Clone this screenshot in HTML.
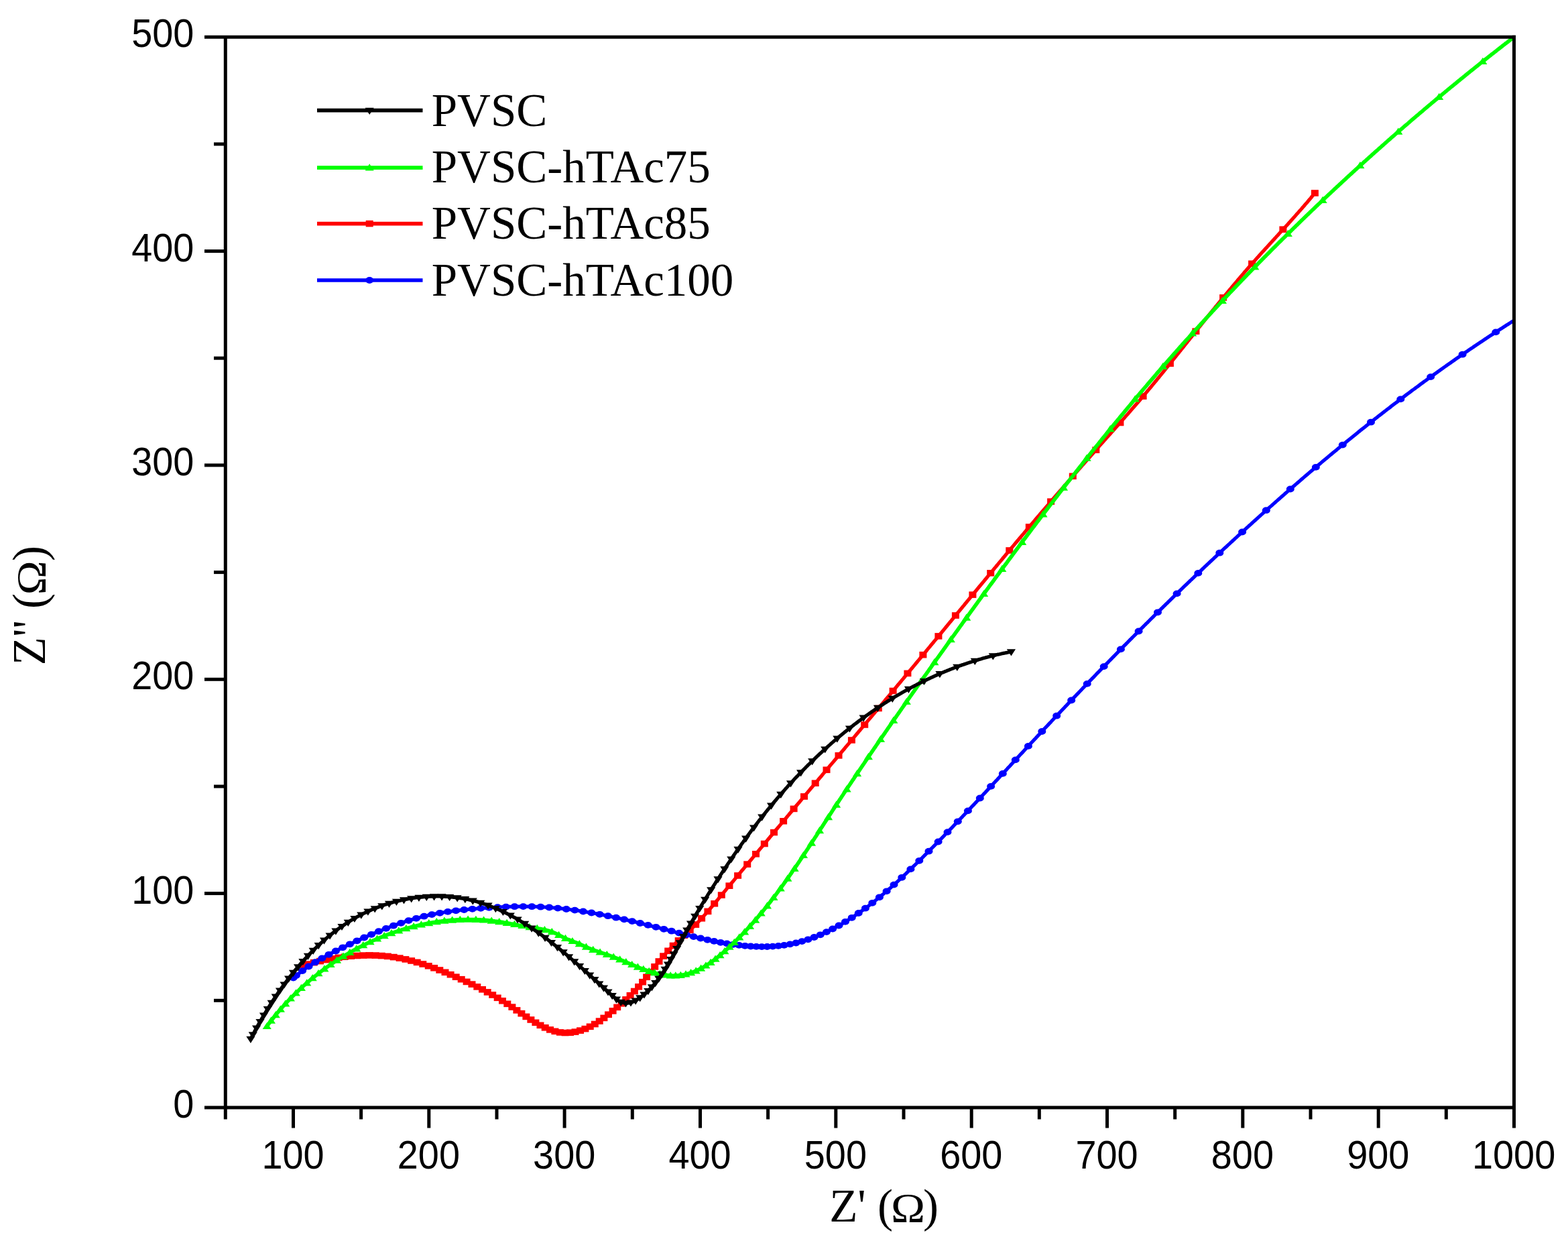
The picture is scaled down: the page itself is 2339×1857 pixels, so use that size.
<!DOCTYPE html>
<html lang="en">
<head>
<meta charset="utf-8">
<title>Nyquist plot</title>
<style>
html,body{margin:0;padding:0;background:#fff;}
body{width:2339px;height:1857px;overflow:hidden;}
svg{display:block;}
</style>
</head>
<body>
<svg width="2339" height="1857" viewBox="0 0 2339 1857">
<defs><clipPath id="plot"><rect x="336.3" y="55.2" width="1922.2" height="1596.8"/></clipPath></defs>
<rect width="2339" height="1857" fill="#fff"/>
<g clip-path="url(#plot)" fill="none" stroke-linejoin="round">
<path d="M453.4,1439.6 455.4,1439.1 457.3,1438.6 459.3,1438.0 461.3,1437.5 463.2,1437.0 465.2,1436.5 467.2,1436.0 469.1,1435.5 471.1,1435.1 473.1,1434.6 475.0,1434.1 477.0,1433.7 479.0,1433.2 481.0,1432.8 482.9,1432.4 484.9,1432.0 486.9,1431.6 488.9,1431.2 490.8,1430.8 492.8,1430.5 494.8,1430.1 496.8,1429.8 498.7,1429.4 500.7,1429.1 502.7,1428.8 504.7,1428.5 506.7,1428.2 508.6,1427.9 510.6,1427.6 512.6,1427.4 514.6,1427.1 516.5,1426.9 518.5,1426.7 520.5,1426.5 522.5,1426.3 524.4,1426.1 526.4,1425.9 528.4,1425.8 530.4,1425.6 532.3,1425.5 534.3,1425.4 536.3,1425.3 538.3,1425.2 540.2,1425.1 542.2,1425.0 544.2,1425.0 546.2,1425.0 548.1,1424.9 550.1,1424.9 552.1,1424.9 554.0,1425.0 556.0,1425.0 558.0,1425.0 559.9,1425.1 561.9,1425.2 563.9,1425.3 565.8,1425.4 567.8,1425.5 569.8,1425.6 571.7,1425.8 573.7,1426.0 575.6,1426.2 577.6,1426.4 579.6,1426.6 581.5,1426.8 583.5,1427.1 585.4,1427.3 587.4,1427.6 589.3,1427.9 591.3,1428.2 593.2,1428.6 595.2,1428.9 597.1,1429.3 599.1,1429.7 601.0,1430.1 602.9,1430.5 604.9,1430.9 606.8,1431.3 608.7,1431.8 610.7,1432.3 612.6,1432.8 614.5,1433.3 616.5,1433.8 618.4,1434.3 620.3,1434.8 622.2,1435.4 624.2,1436.0 626.1,1436.5 628.0,1437.1 629.9,1437.7 631.8,1438.4 633.7,1439.0 635.6,1439.6 637.6,1440.3 639.5,1440.9 641.4,1441.6 643.3,1442.3 645.2,1442.9 647.1,1443.6 649.0,1444.3 650.8,1445.1 652.7,1445.8 654.6,1446.5 656.5,1447.2 658.4,1448.0 660.3,1448.7 662.1,1449.5 664.0,1450.3 665.9,1451.0 667.7,1451.8 669.6,1452.6 671.5,1453.4 673.3,1454.2 675.2,1455.0 677.0,1455.8 678.9,1456.6 680.7,1457.4 682.6,1458.2 684.4,1459.0 686.3,1459.9 688.1,1460.7 689.9,1461.5 691.8,1462.4 693.6,1463.2 695.4,1464.0 697.2,1464.9 699.1,1465.7 700.9,1466.6 702.7,1467.5 704.5,1468.3 706.3,1469.2 708.1,1470.1 709.9,1471.0 711.7,1471.8 713.5,1472.7 715.3,1473.6 717.1,1474.5 718.8,1475.5 720.6,1476.4 722.4,1477.3 724.2,1478.2 725.9,1479.2 727.7,1480.1 729.4,1481.1 731.2,1482.0 732.9,1483.0 734.7,1484.0 736.4,1485.0 738.2,1486.0 739.9,1487.0 741.6,1488.0 743.4,1489.0 745.1,1490.0 746.8,1491.1 748.5,1492.1 750.2,1493.2 751.9,1494.3 753.6,1495.3 755.3,1496.4 757.0,1497.5 758.7,1498.6 760.4,1499.7 762.1,1500.9 763.8,1502.0 765.4,1503.1 767.1,1504.3 768.8,1505.4 770.4,1506.6 772.1,1507.7 773.8,1508.9 775.4,1510.0 777.1,1511.1 778.8,1512.3 780.4,1513.4 782.1,1514.6 783.8,1515.7 785.5,1516.8 787.1,1517.9 788.8,1519.0 790.5,1520.1 792.2,1521.2 793.9,1522.2 795.6,1523.3 797.3,1524.3 799.0,1525.3 800.7,1526.3 802.4,1527.3 804.1,1528.3 805.9,1529.2 807.6,1530.1 809.3,1531.0 811.1,1531.9 812.9,1532.7 814.6,1533.5 816.4,1534.3 818.2,1535.0 820.0,1535.7 821.8,1536.4 823.6,1537.1 825.5,1537.6 827.3,1538.2 829.2,1538.7 831.0,1539.1 832.9,1539.5 834.8,1539.8 836.7,1540.1 838.7,1540.3 840.6,1540.5 842.5,1540.5 844.5,1540.6 846.5,1540.5 848.5,1540.4 850.4,1540.2 852.4,1540.0 854.4,1539.7 856.4,1539.4 858.4,1539.0 860.4,1538.5 862.4,1538.0 864.4,1537.5 866.3,1536.9 868.3,1536.3 870.2,1535.6 872.1,1534.9 874.0,1534.1 875.9,1533.3 877.8,1532.5 879.7,1531.6 881.5,1530.7 883.3,1529.7 885.1,1528.8 886.8,1527.7 888.6,1526.7 890.3,1525.6 892.0,1524.6 893.7,1523.5 895.4,1522.3 897.1,1521.2 898.7,1520.0 900.3,1518.8 902.0,1517.6 903.6,1516.4 905.2,1515.1 906.8,1513.9 908.3,1512.6 909.9,1511.4 911.5,1510.1 913.0,1508.8 914.6,1507.6 916.1,1506.3 917.6,1505.0 919.2,1503.7 920.7,1502.4 922.2,1501.1 923.7,1499.8 925.2,1498.5 926.7,1497.2 928.2,1495.9 929.7,1494.6 931.1,1493.3 932.6,1492.0 934.0,1490.6 935.5,1489.3 936.9,1487.9 938.3,1486.6 939.8,1485.2 941.2,1483.8 942.6,1482.4 943.9,1481.0 945.3,1479.6 946.7,1478.2 948.0,1476.7 949.4,1475.3 950.7,1473.8 952.0,1472.4 953.4,1470.9 954.7,1469.4 956.0,1467.9 957.2,1466.3 958.5,1464.8 959.8,1463.3 961.0,1461.7 962.3,1460.2 963.6,1458.6 964.8,1457.1 966.0,1455.5 967.3,1453.9 968.5,1452.3 969.8,1450.8 971.0,1449.2 972.2,1447.6 973.5,1446.0 974.7,1444.4 975.9,1442.8 977.2,1441.3 978.4,1439.7 979.7,1438.1 980.9,1436.5 982.2,1435.0 983.5,1433.4 984.7,1431.9 986.0,1430.3 987.3,1428.8 988.6,1427.3 989.9,1425.8 991.2,1424.3 992.6,1422.8 993.9,1421.3 995.2,1419.8 996.6,1418.4 998.0,1416.9 999.3,1415.5 1000.7,1414.0 1002.1,1412.6 1003.5,1411.2 1004.9,1409.8 1006.3,1408.4 1007.8,1407.0 1009.2,1405.7 1010.7,1404.3 1012.1,1403.0 1013.6,1401.6 1015.0,1400.3 1016.5,1398.9 1018.0,1397.6 1019.5,1396.3 1020.9,1394.9 1022.4,1393.6 1023.9,1392.3 1025.3,1390.9 1026.8,1389.6 1028.3,1388.2 1029.7,1386.9 1031.1,1385.5 1032.6,1384.2 1034.0,1382.8 1035.4,1381.4 1036.8,1380.0 1038.2,1378.6 1039.6,1377.2 1041.0,1375.7 1042.4,1374.3 1043.7,1372.9 1045.1,1371.4 1046.4,1369.9 1047.8,1368.5 1049.1,1367.0 1050.4,1365.5 1051.8,1364.0 1053.1,1362.5 1054.4,1361.0 1055.7,1359.5 1057.0,1358.0 1058.3,1356.5 1059.6,1355.0 1060.9,1353.5 1062.2,1352.0 1063.5,1350.4 1064.7,1348.9 1066.0,1347.4 1067.3,1345.9 1068.6,1344.3 1069.9,1342.8 1071.1,1341.3 1072.4,1339.7 1073.7,1338.2 1075.0,1336.7 1076.3,1335.1 1077.5,1333.6 1078.8,1332.1 1080.1,1330.5 1081.4,1329.0 1082.7,1327.5 1083.9,1325.9 1085.2,1324.4 1086.5,1322.9 1087.8,1321.3 1089.1,1319.8 1090.3,1318.3 1091.6,1316.7 1092.9,1315.2 1094.2,1313.7 1095.5,1312.1 1096.7,1310.6 1098.0,1309.1 1099.3,1307.5 1100.6,1306.0 1101.9,1304.4 1103.1,1302.9 1104.4,1301.4 1105.7,1299.8 1107.0,1298.3 1108.3,1296.8 1109.5,1295.3 1110.8,1293.7 1112.1,1292.2 1113.4,1290.7 1114.7,1289.1 1116.0,1287.6 1117.2,1286.1 1118.5,1284.5 1119.8,1283.0 1121.1,1281.5 1122.4,1279.9 1123.7,1278.4 1124.9,1276.9 1126.2,1275.3 1127.5,1273.8 1128.8,1272.3 1130.1,1270.7 1131.4,1269.2 1132.6,1267.7 1133.9,1266.1 1135.2,1264.6 1136.5,1263.1 1137.8,1261.5 1139.1,1260.0 1140.3,1258.5 1141.6,1256.9 1142.9,1255.4 1144.2,1253.9 1145.5,1252.3 1146.8,1250.8 1148.0,1249.3 1149.3,1247.7 1150.6,1246.2 1151.9,1244.7 1153.2,1243.1 1154.5,1241.6 1155.8,1240.1 1157.0,1238.5 1158.3,1237.0 1159.6,1235.5 1160.9,1233.9 1162.2,1232.4 1163.5,1230.9 1164.8,1229.4 1166.0,1227.8 1167.3,1226.3 1168.6,1224.8 1169.9,1223.2 1171.2,1221.7 1172.5,1220.2 1173.8,1218.6 1175.0,1217.1 1176.3,1215.6 1177.6,1214.0 1178.9,1212.5 1180.2,1211.0 1181.5,1209.5 1182.8,1207.9 1184.1,1206.4 1185.3,1204.9 1186.6,1203.3 1187.9,1201.8 1189.2,1200.3 1190.5,1198.7 1191.8,1197.2 1193.1,1195.7 1194.4,1194.1 1195.6,1192.6 1196.9,1191.1 1198.2,1189.6 1199.5,1188.0 1200.8,1186.5 1202.1,1185.0 1203.4,1183.4 1204.7,1181.9 1205.9,1180.4 1207.2,1178.9 1208.5,1177.3 1209.8,1175.8 1211.1,1174.3 1212.4,1172.7 1213.7,1171.2 1215.0,1169.7 1216.2,1168.2 1217.5,1166.6 1218.8,1165.1 1220.1,1163.6 1221.4,1162.0 1222.7,1160.5 1224.0,1159.0 1225.3,1157.5 1226.6,1155.9 1227.8,1154.4 1229.1,1152.9 1230.4,1151.3 1231.7,1149.8 1233.0,1148.3 1234.3,1146.8 1235.6,1145.2 1236.9,1143.7 1238.1,1142.2 1239.4,1140.6 1240.7,1139.1 1242.0,1137.6 1243.3,1136.1 1244.6,1134.5 1245.9,1133.0 1247.2,1131.5 1248.5,1129.9 1249.7,1128.4 1251.0,1126.9 1252.3,1125.4 1253.6,1123.8 1254.9,1122.3 1256.2,1120.8 1257.5,1119.2 1258.8,1117.7 1260.1,1116.2 1261.3,1114.7 1262.6,1113.1 1263.9,1111.6 1265.2,1110.1 1266.5,1108.6 1267.8,1107.0 1269.1,1105.5 1270.4,1104.0 1271.6,1102.4 1272.9,1100.9 1274.2,1099.4 1275.5,1097.9 1276.8,1096.3 1278.1,1094.8 1279.4,1093.3 1280.7,1091.7 1281.9,1090.2 1283.2,1088.7 1284.5,1087.1 1285.8,1085.6 1287.1,1084.1 1288.4,1082.6 1289.7,1081.0 1291.0,1079.5 1292.2,1078.0 1293.5,1076.4 1294.8,1074.9 1296.1,1073.4 1297.4,1071.9 1298.7,1070.3 1300.0,1068.8 1301.3,1067.3 1302.5,1065.7 1303.8,1064.2 1305.1,1062.7 1306.4,1061.1 1307.7,1059.6 1309.0,1058.1 1310.3,1056.5 1311.5,1055.0 1312.8,1053.5 1314.1,1051.9 1315.4,1050.4 1316.7,1048.9 1318.0,1047.4 1319.3,1045.8 1320.5,1044.3 1321.8,1042.8 1323.1,1041.2 1324.4,1039.7 1325.7,1038.2 1327.0,1036.6 1328.3,1035.1 1329.5,1033.6 1330.8,1032.0 1332.1,1030.5 1333.4,1029.0 1334.7,1027.4 1336.0,1025.9 1337.2,1024.4 1338.5,1022.8 1339.8,1021.3 1341.1,1019.8 1342.4,1018.2 1343.7,1016.7 1344.9,1015.1 1346.2,1013.6 1347.5,1012.1 1348.8,1010.5 1350.1,1009.0 1351.3,1007.5 1352.6,1005.9 1353.9,1004.4 1355.2,1002.9 1356.5,1001.3 1357.8,999.8 1359.0,998.2 1360.3,996.7 1361.6,995.2 1362.9,993.6 1364.2,992.1 1365.4,990.6 1366.7,989.0 1368.0,987.5 1369.3,985.9 1370.6,984.4 1371.8,982.9 1373.1,981.3 1374.4,979.8 1375.7,978.2 1376.9,976.7 1378.2,975.2 1379.5,973.6 1380.8,972.1 1382.1,970.5 1383.3,969.0 1384.6,967.4 1385.9,965.9 1387.2,964.4 1388.4,962.8 1389.7,961.3 1391.0,959.7 1392.3,958.2 1393.5,956.6 1394.8,955.1 1396.1,953.6 1397.4,952.0 1398.7,950.5 1399.9,948.9 1401.2,947.4 1402.5,945.8 1403.8,944.3 1405.0,942.8 1406.3,941.2 1407.6,939.7 1408.9,938.1 1410.1,936.6 1411.4,935.0 1412.7,933.5 1414.0,931.9 1415.2,930.4 1416.5,928.8 1417.8,927.3 1419.0,925.8 1420.3,924.2 1421.6,922.7 1422.9,921.1 1424.1,919.6 1425.4,918.0 1426.7,916.5 1428.0,914.9 1429.2,913.4 1430.5,911.9 1431.8,910.3 1433.1,908.8 1434.3,907.2 1435.6,905.7 1436.9,904.1 1438.2,902.6 1439.4,901.0 1440.7,899.5 1442.0,898.0 1443.2,896.4 1444.5,894.9 1445.8,893.3 1447.1,891.8 1448.3,890.2 1449.6,888.7 1450.9,887.1 1452.2,885.6 1453.4,884.1 1454.7,882.5 1456.0,881.0 1457.3,879.4 1458.5,877.9 1459.8,876.3 1461.1,874.8 1462.4,873.3 1463.6,871.7 1464.9,870.2 1466.2,868.6 1467.5,867.1 1468.7,865.6 1470.0,864.0 1471.3,862.5 1472.6,860.9 1473.8,859.4 1475.1,857.9 1476.4,856.3 1477.7,854.8 1478.9,853.2 1480.2,851.7 1481.5,850.2 1482.8,848.6 1484.0,847.1 1485.3,845.6 1486.6,844.0 1487.9,842.5 1489.1,841.0 1490.4,839.4 1491.7,837.9 1493.0,836.4 1494.3,834.8 1495.5,833.3 1496.8,831.8 1498.1,830.2 1499.4,828.7 1500.6,827.2 1501.9,825.6 1503.2,824.1 1504.5,822.6 1505.8,821.0 1507.0,819.5 1508.3,818.0 1509.6,816.4 1510.9,814.9 1512.2,813.4 1513.4,811.9 1514.7,810.3 1516.0,808.8 1517.3,807.3 1518.6,805.8 1519.9,804.2 1521.1,802.7 1522.4,801.2 1523.7,799.7 1525.0,798.1 1526.3,796.6 1527.6,795.1 1528.8,793.6 1530.1,792.1 1531.4,790.5 1532.7,789.0 1534.0,787.5 1535.3,786.0 1536.6,784.4 1537.8,782.9 1539.1,781.4 1540.4,779.9 1541.7,778.4 1543.0,776.9 1544.3,775.3 1545.6,773.8 1546.9,772.3 1548.2,770.8 1549.5,769.3 1550.7,767.8 1552.0,766.2 1553.3,764.7 1554.6,763.2 1555.9,761.7 1557.2,760.2 1558.5,758.7 1559.8,757.1 1561.1,755.6 1562.4,754.1 1563.7,752.6 1565.0,751.1 1566.3,749.6 1567.6,748.1 1568.9,746.6 1570.2,745.0 1571.5,743.5 1572.8,742.0 1574.1,740.5 1575.4,739.0 1576.7,737.5 1578.0,736.0 1579.3,734.5 1580.6,733.0 1581.9,731.4 1583.3,729.9 1584.6,728.4 1585.9,726.9 1587.2,725.4 1588.5,723.9 1589.8,722.4 1591.1,720.9 1592.4,719.4 1593.7,717.9 1595.1,716.4 1596.4,714.8 1597.7,713.3 1599.0,711.8 1600.3,710.3 1601.6,708.8 1603.0,707.3 1604.3,705.8 1605.6,704.3 1606.9,702.8 1608.2,701.3 1609.6,699.8 1610.9,698.3 1612.2,696.8 1613.5,695.3 1614.8,693.7 1616.2,692.2 1617.5,690.7 1618.8,689.2 1620.1,687.7 1621.5,686.2 1622.8,684.7 1624.1,683.2 1625.5,681.7 1626.8,680.2 1628.1,678.7 1629.5,677.2 1630.8,675.7 1632.1,674.2 1633.5,672.7 1634.8,671.2 1636.1,669.6 1637.5,668.1 1638.8,666.6 1640.1,665.1 1641.5,663.6 1642.8,662.1 1644.2,660.6 1645.5,659.1 1646.8,657.6 1648.2,656.1 1649.5,654.6 1650.8,653.1 1652.2,651.6 1653.5,650.1 1654.9,648.6 1656.2,647.1 1657.5,645.5 1658.9,644.0 1660.2,642.5 1661.6,641.0 1662.9,639.5 1664.2,638.0 1665.6,636.5 1666.9,635.0 1668.2,633.5 1669.6,632.0 1670.9,630.5 1672.2,629.0 1673.6,627.5 1674.9,625.9 1676.2,624.4 1677.6,622.9 1678.9,621.4 1680.2,619.9 1681.5,618.4 1682.9,616.9 1684.2,615.4 1685.5,613.9 1686.8,612.3 1688.1,610.8 1689.4,609.3 1690.8,607.8 1692.1,606.3 1693.4,604.8 1694.7,603.3 1696.0,601.7 1697.3,600.2 1698.6,598.7 1699.9,597.2 1701.2,595.7 1702.5,594.2 1703.8,592.7 1705.1,591.1 1706.4,589.6 1707.6,588.1 1708.9,586.6 1710.2,585.1 1711.5,583.5 1712.8,582.0 1714.0,580.5 1715.3,579.0 1716.6,577.5 1717.9,575.9 1719.1,574.4 1720.4,572.9 1721.6,571.4 1722.9,569.8 1724.2,568.3 1725.4,566.8 1726.7,565.2 1727.9,563.7 1729.2,562.2 1730.4,560.7 1731.7,559.1 1732.9,557.6 1734.2,556.1 1735.4,554.5 1736.7,553.0 1737.9,551.5 1739.2,549.9 1740.4,548.4 1741.7,546.9 1742.9,545.3 1744.1,543.8 1745.4,542.3 1746.6,540.7 1747.9,539.2 1749.1,537.6 1750.3,536.1 1751.6,534.6 1752.8,533.0 1754.1,531.5 1755.3,529.9 1756.5,528.4 1757.8,526.8 1759.0,525.3 1760.2,523.7 1761.5,522.2 1762.7,520.7 1764.0,519.1 1765.2,517.6 1766.4,516.0 1767.7,514.4 1768.9,512.9 1770.2,511.3 1771.4,509.8 1772.6,508.2 1773.9,506.7 1775.1,505.1 1776.4,503.6 1777.6,502.0 1778.9,500.4 1780.1,498.9 1781.4,497.3 1782.6,495.7 1783.9,494.2 1785.1,492.6 1786.4,491.0 1787.6,489.5 1788.9,487.9 1790.2,486.3 1791.4,484.8 1792.7,483.2 1793.9,481.6 1795.2,480.0 1796.5,478.5 1797.7,476.9 1799.0,475.3 1800.3,473.8 1801.6,472.2 1802.8,470.6 1804.1,469.0 1805.4,467.5 1806.6,465.9 1807.9,464.3 1809.2,462.7 1810.5,461.2 1811.8,459.6 1813.0,458.0 1814.3,456.4 1815.6,454.9 1816.9,453.3 1818.2,451.7 1819.5,450.2 1820.7,448.6 1822.0,447.0 1823.3,445.5 1824.6,443.9 1825.9,442.3 1827.2,440.8 1828.5,439.2 1829.8,437.7 1831.1,436.1 1832.4,434.5 1833.7,433.0 1835.0,431.4 1836.3,429.9 1837.6,428.3 1838.9,426.8 1840.2,425.2 1841.5,423.7 1842.8,422.1 1844.1,420.6 1845.4,419.1 1846.7,417.5 1848.0,416.0 1849.3,414.5 1850.6,412.9 1851.9,411.4 1853.2,409.9 1854.5,408.4 1855.8,406.8 1857.1,405.3 1858.5,403.8 1859.8,402.3 1861.1,400.8 1862.4,399.3 1863.7,397.8 1865.0,396.3 1866.3,394.8 1867.6,393.3 1869.0,391.8 1870.3,390.3 1871.6,388.9 1872.9,387.4 1874.2,385.9 1875.5,384.4 1876.9,383.0 1878.2,381.5 1879.5,380.0 1880.8,378.6 1882.1,377.1 1883.5,375.6 1884.8,374.2 1886.1,372.7 1887.4,371.3 1888.8,369.8 1890.1,368.4 1891.4,366.9 1892.7,365.5 1894.0,364.0 1895.4,362.6 1896.7,361.1 1898.0,359.7 1899.3,358.2 1900.7,356.8 1902.0,355.3 1903.3,353.9 1904.6,352.4 1906.0,351.0 1907.3,349.5 1908.6,348.1 1910.0,346.6 1911.3,345.2 1912.6,343.7 1913.9,342.2 1915.3,340.8 1916.6,339.3 1917.9,337.9 1919.2,336.4 1920.6,334.9 1921.9,333.5 1923.2,332.0 1924.6,330.5 1925.9,329.0 1927.2,327.6 1928.5,326.1 1929.9,324.6 1931.2,323.1 1932.5,321.6 1933.8,320.1 1935.2,318.6 1936.5,317.1 1937.8,315.6 1939.2,314.1 1940.5,312.6 1941.8,311.1 1943.1,309.5 1944.5,308.0 1945.8,306.5 1947.1,304.9 1948.4,303.4 1949.8,301.9 1951.1,300.3 1952.4,298.7 1953.7,297.2 1955.1,295.6 1956.4,294.0 1957.7,292.4 1959.0,290.9 1960.4,289.3 1961.4,288.0" stroke="#ff0000" stroke-width="5.2"/>
<g stroke="none"><rect x="447.9" y="1434.8" width="11.0" height="9.6" fill="#ff0000"/><rect x="453.6" y="1433.3" width="11.0" height="9.6" fill="#ff0000"/><rect x="462.8" y="1430.9" width="11.0" height="9.6" fill="#ff0000"/><rect x="472.0" y="1428.8" width="11.0" height="9.6" fill="#ff0000"/><rect x="481.1" y="1426.8" width="11.0" height="9.6" fill="#ff0000"/><rect x="490.3" y="1425.1" width="11.0" height="9.6" fill="#ff0000"/><rect x="499.5" y="1423.6" width="11.0" height="9.6" fill="#ff0000"/><rect x="508.7" y="1422.4" width="11.0" height="9.6" fill="#ff0000"/><rect x="518.0" y="1421.4" width="11.0" height="9.6" fill="#ff0000"/><rect x="527.2" y="1420.7" width="11.0" height="9.6" fill="#ff0000"/><rect x="536.3" y="1420.3" width="11.0" height="9.6" fill="#ff0000"/><rect x="545.5" y="1420.1" width="11.0" height="9.6" fill="#ff0000"/><rect x="554.6" y="1420.3" width="11.0" height="9.6" fill="#ff0000"/><rect x="563.7" y="1420.8" width="11.0" height="9.6" fill="#ff0000"/><rect x="572.8" y="1421.6" width="11.0" height="9.6" fill="#ff0000"/><rect x="581.7" y="1422.8" width="11.0" height="9.6" fill="#ff0000"/><rect x="590.6" y="1424.3" width="11.0" height="9.6" fill="#ff0000"/><rect x="599.4" y="1426.1" width="11.0" height="9.6" fill="#ff0000"/><rect x="608.1" y="1428.2" width="11.0" height="9.6" fill="#ff0000"/><rect x="616.7" y="1430.6" width="11.0" height="9.6" fill="#ff0000"/><rect x="625.3" y="1433.2" width="11.0" height="9.6" fill="#ff0000"/><rect x="633.7" y="1436.0" width="11.0" height="9.6" fill="#ff0000"/><rect x="642.1" y="1439.0" width="11.0" height="9.6" fill="#ff0000"/><rect x="650.3" y="1442.2" width="11.0" height="9.6" fill="#ff0000"/><rect x="658.5" y="1445.5" width="11.0" height="9.6" fill="#ff0000"/><rect x="666.6" y="1448.9" width="11.0" height="9.6" fill="#ff0000"/><rect x="674.7" y="1452.4" width="11.0" height="9.6" fill="#ff0000"/><rect x="682.7" y="1455.9" width="11.0" height="9.6" fill="#ff0000"/><rect x="690.6" y="1459.6" width="11.0" height="9.6" fill="#ff0000"/><rect x="698.5" y="1463.3" width="11.0" height="9.6" fill="#ff0000"/><rect x="706.3" y="1467.1" width="11.0" height="9.6" fill="#ff0000"/><rect x="714.0" y="1471.0" width="11.0" height="9.6" fill="#ff0000"/><rect x="721.7" y="1475.1" width="11.0" height="9.6" fill="#ff0000"/><rect x="729.2" y="1479.2" width="11.0" height="9.6" fill="#ff0000"/><rect x="736.7" y="1483.5" width="11.0" height="9.6" fill="#ff0000"/><rect x="744.0" y="1488.0" width="11.0" height="9.6" fill="#ff0000"/><rect x="751.3" y="1492.5" width="11.0" height="9.6" fill="#ff0000"/><rect x="758.4" y="1497.3" width="11.0" height="9.6" fill="#ff0000"/><rect x="765.4" y="1502.1" width="11.0" height="9.6" fill="#ff0000"/><rect x="772.4" y="1506.9" width="11.0" height="9.6" fill="#ff0000"/><rect x="779.4" y="1511.6" width="11.0" height="9.6" fill="#ff0000"/><rect x="786.4" y="1516.2" width="11.0" height="9.6" fill="#ff0000"/><rect x="793.4" y="1520.5" width="11.0" height="9.6" fill="#ff0000"/><rect x="800.5" y="1524.5" width="11.0" height="9.6" fill="#ff0000"/><rect x="807.7" y="1528.0" width="11.0" height="9.6" fill="#ff0000"/><rect x="815.0" y="1531.1" width="11.0" height="9.6" fill="#ff0000"/><rect x="822.4" y="1533.5" width="11.0" height="9.6" fill="#ff0000"/><rect x="829.9" y="1535.1" width="11.0" height="9.6" fill="#ff0000"/><rect x="837.5" y="1535.7" width="11.0" height="9.6" fill="#ff0000"/><rect x="845.0" y="1535.4" width="11.0" height="9.6" fill="#ff0000"/><rect x="852.5" y="1534.3" width="11.0" height="9.6" fill="#ff0000"/><rect x="860.0" y="1532.3" width="11.0" height="9.6" fill="#ff0000"/><rect x="867.4" y="1529.8" width="11.0" height="9.6" fill="#ff0000"/><rect x="874.7" y="1526.5" width="11.0" height="9.6" fill="#ff0000"/><rect x="881.8" y="1522.7" width="11.0" height="9.6" fill="#ff0000"/><rect x="888.7" y="1518.3" width="11.0" height="9.6" fill="#ff0000"/><rect x="895.4" y="1513.6" width="11.0" height="9.6" fill="#ff0000"/><rect x="902.0" y="1508.5" width="11.0" height="9.6" fill="#ff0000"/><rect x="908.6" y="1503.1" width="11.0" height="9.6" fill="#ff0000"/><rect x="915.2" y="1497.6" width="11.0" height="9.6" fill="#ff0000"/><rect x="921.7" y="1492.0" width="11.0" height="9.6" fill="#ff0000"/><rect x="928.2" y="1486.1" width="11.0" height="9.6" fill="#ff0000"/><rect x="934.6" y="1480.0" width="11.0" height="9.6" fill="#ff0000"/><rect x="940.9" y="1473.7" width="11.0" height="9.6" fill="#ff0000"/><rect x="947.1" y="1467.0" width="11.0" height="9.6" fill="#ff0000"/><rect x="953.1" y="1459.9" width="11.0" height="9.6" fill="#ff0000"/><rect x="959.1" y="1452.5" width="11.0" height="9.6" fill="#ff0000"/><rect x="965.1" y="1444.9" width="11.0" height="9.6" fill="#ff0000"/><rect x="971.2" y="1437.1" width="11.0" height="9.6" fill="#ff0000"/><rect x="977.5" y="1429.2" width="11.0" height="9.6" fill="#ff0000"/><rect x="984.1" y="1421.3" width="11.0" height="9.6" fill="#ff0000"/><rect x="991.2" y="1413.5" width="11.0" height="9.6" fill="#ff0000"/><rect x="998.7" y="1405.7" width="11.0" height="9.6" fill="#ff0000"/><rect x="1006.7" y="1398.1" width="11.0" height="9.6" fill="#ff0000"/><rect x="1015.1" y="1390.4" width="11.0" height="9.6" fill="#ff0000"/><rect x="1023.7" y="1382.6" width="11.0" height="9.6" fill="#ff0000"/><rect x="1032.2" y="1374.3" width="11.0" height="9.6" fill="#ff0000"/><rect x="1041.1" y="1365.0" width="11.0" height="9.6" fill="#ff0000"/><rect x="1050.4" y="1354.6" width="11.0" height="9.6" fill="#ff0000"/><rect x="1060.2" y="1343.0" width="11.0" height="9.6" fill="#ff0000"/><rect x="1070.8" y="1330.3" width="11.0" height="9.6" fill="#ff0000"/><rect x="1082.4" y="1316.4" width="11.0" height="9.6" fill="#ff0000"/><rect x="1095.1" y="1301.2" width="11.0" height="9.6" fill="#ff0000"/><rect x="1109.2" y="1284.3" width="11.0" height="9.6" fill="#ff0000"/><rect x="1122.0" y="1269.0" width="11.0" height="9.6" fill="#ff0000"/><rect x="1134.8" y="1253.7" width="11.0" height="9.6" fill="#ff0000"/><rect x="1149.0" y="1236.8" width="11.0" height="9.6" fill="#ff0000"/><rect x="1163.1" y="1220.0" width="11.0" height="9.6" fill="#ff0000"/><rect x="1178.6" y="1201.6" width="11.0" height="9.6" fill="#ff0000"/><rect x="1194.0" y="1183.2" width="11.0" height="9.6" fill="#ff0000"/><rect x="1210.7" y="1163.4" width="11.0" height="9.6" fill="#ff0000"/><rect x="1227.5" y="1143.5" width="11.0" height="9.6" fill="#ff0000"/><rect x="1245.5" y="1122.1" width="11.0" height="9.6" fill="#ff0000"/><rect x="1264.9" y="1099.2" width="11.0" height="9.6" fill="#ff0000"/><rect x="1284.2" y="1076.2" width="11.0" height="9.6" fill="#ff0000"/><rect x="1304.8" y="1051.7" width="11.0" height="9.6" fill="#ff0000"/><rect x="1326.6" y="1025.7" width="11.0" height="9.6" fill="#ff0000"/><rect x="1348.4" y="999.6" width="11.0" height="9.6" fill="#ff0000"/><rect x="1371.4" y="971.9" width="11.0" height="9.6" fill="#ff0000"/><rect x="1394.4" y="944.1" width="11.0" height="9.6" fill="#ff0000"/><rect x="1419.9" y="913.2" width="11.0" height="9.6" fill="#ff0000"/><rect x="1445.4" y="882.3" width="11.0" height="9.6" fill="#ff0000"/><rect x="1472.2" y="850.0" width="11.0" height="9.6" fill="#ff0000"/><rect x="1500.3" y="816.2" width="11.0" height="9.6" fill="#ff0000"/><rect x="1529.8" y="781.2" width="11.0" height="9.6" fill="#ff0000"/><rect x="1562.1" y="743.3" width="11.0" height="9.6" fill="#ff0000"/><rect x="1594.8" y="705.5" width="11.0" height="9.6" fill="#ff0000"/><rect x="1629.3" y="666.4" width="11.0" height="9.6" fill="#ff0000"/><rect x="1665.4" y="625.7" width="11.0" height="9.6" fill="#ff0000"/><rect x="1699.6" y="586.3" width="11.0" height="9.6" fill="#ff0000"/><rect x="1739.9" y="537.5" width="11.0" height="9.6" fill="#ff0000"/><rect x="1778.4" y="489.4" width="11.0" height="9.6" fill="#ff0000"/><rect x="1819.1" y="439.1" width="11.0" height="9.6" fill="#ff0000"/><rect x="1862.1" y="388.5" width="11.0" height="9.6" fill="#ff0000"/><rect x="1908.4" y="337.4" width="11.0" height="9.6" fill="#ff0000"/><rect x="1955.9" y="283.2" width="11.0" height="9.6" fill="#ff0000"/></g>
<path d="M437.6,1458.6 439.2,1457.3 440.8,1456.0 442.4,1454.7 444.0,1453.4 445.6,1452.2 447.2,1450.9 448.8,1449.7 450.5,1448.5 452.1,1447.3 453.7,1446.2 455.4,1445.0 457.0,1443.9 458.6,1442.7 460.3,1441.6 462.0,1440.5 463.6,1439.4 465.3,1438.4 467.0,1437.3 468.6,1436.3 470.3,1435.2 472.0,1434.2 473.7,1433.2 475.4,1432.2 477.1,1431.2 478.8,1430.2 480.5,1429.3 482.2,1428.3 483.9,1427.4 485.6,1426.4 487.3,1425.5 489.0,1424.6 490.8,1423.6 492.5,1422.7 494.2,1421.8 496.0,1420.9 497.7,1420.0 499.5,1419.2 501.2,1418.3 503.0,1417.4 504.7,1416.5 506.5,1415.7 508.3,1414.8 510.0,1413.9 511.8,1413.1 513.6,1412.2 515.4,1411.4 517.2,1410.5 519.0,1409.7 520.7,1408.8 522.5,1408.0 524.3,1407.1 526.1,1406.3 527.9,1405.5 529.8,1404.6 531.6,1403.8 533.4,1403.0 535.2,1402.1 537.0,1401.3 538.8,1400.5 540.7,1399.7 542.5,1398.8 544.3,1398.0 546.2,1397.2 548.0,1396.4 549.9,1395.6 551.7,1394.8 553.6,1394.0 555.4,1393.2 557.3,1392.4 559.1,1391.6 561.0,1390.9 562.9,1390.1 564.7,1389.3 566.6,1388.6 568.5,1387.8 570.3,1387.1 572.2,1386.3 574.1,1385.6 576.0,1384.8 577.9,1384.1 579.7,1383.4 581.6,1382.7 583.5,1382.0 585.4,1381.3 587.3,1380.6 589.2,1379.9 591.1,1379.2 593.0,1378.6 594.9,1377.9 596.8,1377.2 598.8,1376.6 600.7,1376.0 602.6,1375.3 604.5,1374.7 606.4,1374.1 608.3,1373.5 610.3,1372.9 612.2,1372.3 614.1,1371.7 616.1,1371.2 618.0,1370.6 619.9,1370.0 621.9,1369.5 623.8,1369.0 625.7,1368.5 627.7,1368.0 629.6,1367.5 631.6,1367.0 633.5,1366.5 635.5,1366.0 637.4,1365.6 639.4,1365.1 641.3,1364.7 643.3,1364.3 645.2,1363.9 647.2,1363.5 649.1,1363.1 651.1,1362.7 653.1,1362.3 655.0,1362.0 657.0,1361.6 659.0,1361.3 660.9,1361.0 662.9,1360.7 664.9,1360.4 666.8,1360.1 668.8,1359.8 670.8,1359.5 672.7,1359.3 674.7,1359.0 676.7,1358.8 678.7,1358.5 680.7,1358.3 682.6,1358.0 684.6,1357.8 686.6,1357.6 688.6,1357.4 690.6,1357.2 692.5,1357.0 694.5,1356.8 696.5,1356.6 698.5,1356.4 700.5,1356.2 702.5,1356.0 704.5,1355.9 706.4,1355.7 708.4,1355.5 710.4,1355.4 712.4,1355.2 714.4,1355.0 716.4,1354.9 718.4,1354.7 720.4,1354.6 722.4,1354.4 724.4,1354.3 726.4,1354.2 728.3,1354.0 730.3,1353.9 732.3,1353.8 734.3,1353.6 736.3,1353.5 738.3,1353.4 740.3,1353.3 742.3,1353.2 744.3,1353.1 746.3,1353.0 748.3,1352.9 750.3,1352.8 752.3,1352.7 754.3,1352.7 756.3,1352.6 758.2,1352.5 760.2,1352.4 762.2,1352.4 764.2,1352.3 766.2,1352.3 768.2,1352.2 770.2,1352.2 772.2,1352.2 774.2,1352.1 776.2,1352.1 778.2,1352.1 780.1,1352.1 782.1,1352.1 784.1,1352.1 786.1,1352.1 788.1,1352.1 790.1,1352.2 792.1,1352.2 794.1,1352.2 796.0,1352.3 798.0,1352.4 800.0,1352.4 802.0,1352.5 804.0,1352.6 805.9,1352.7 807.9,1352.8 809.9,1352.9 811.9,1353.0 813.9,1353.1 815.8,1353.2 817.8,1353.4 819.8,1353.5 821.8,1353.7 823.7,1353.8 825.7,1354.0 827.7,1354.2 829.7,1354.4 831.6,1354.5 833.6,1354.7 835.6,1354.9 837.5,1355.2 839.5,1355.4 841.5,1355.6 843.4,1355.8 845.4,1356.0 847.4,1356.3 849.3,1356.5 851.3,1356.8 853.3,1357.0 855.2,1357.3 857.2,1357.6 859.2,1357.9 861.1,1358.1 863.1,1358.4 865.1,1358.7 867.0,1359.0 869.0,1359.3 871.0,1359.6 872.9,1359.9 874.9,1360.3 876.8,1360.6 878.8,1360.9 880.8,1361.3 882.7,1361.6 884.7,1361.9 886.6,1362.3 888.6,1362.6 890.6,1363.0 892.5,1363.4 894.5,1363.7 896.4,1364.1 898.4,1364.5 900.4,1364.9 902.3,1365.3 904.3,1365.6 906.2,1366.0 908.2,1366.4 910.2,1366.8 912.1,1367.3 914.1,1367.7 916.0,1368.1 918.0,1368.5 919.9,1368.9 921.9,1369.3 923.9,1369.8 925.8,1370.2 927.8,1370.6 929.7,1371.1 931.7,1371.5 933.6,1372.0 935.6,1372.4 937.5,1372.9 939.5,1373.3 941.5,1373.8 943.4,1374.2 945.4,1374.7 947.3,1375.1 949.3,1375.6 951.2,1376.1 953.2,1376.5 955.2,1377.0 957.1,1377.5 959.1,1378.0 961.0,1378.5 963.0,1378.9 964.9,1379.4 966.9,1379.9 968.9,1380.4 970.8,1380.9 972.8,1381.4 974.7,1381.9 976.7,1382.4 978.7,1382.8 980.6,1383.3 982.6,1383.8 984.5,1384.3 986.5,1384.8 988.5,1385.3 990.4,1385.8 992.4,1386.3 994.3,1386.8 996.3,1387.3 998.3,1387.8 1000.2,1388.4 1002.2,1388.9 1004.1,1389.4 1006.1,1389.9 1008.1,1390.4 1010.0,1390.9 1012.0,1391.4 1014.0,1391.9 1015.9,1392.4 1017.9,1392.9 1019.9,1393.4 1021.8,1393.9 1023.8,1394.4 1025.8,1394.9 1027.7,1395.4 1029.7,1395.8 1031.7,1396.3 1033.6,1396.8 1035.6,1397.3 1037.6,1397.8 1039.5,1398.2 1041.5,1398.7 1043.5,1399.2 1045.4,1399.6 1047.4,1400.1 1049.4,1400.5 1051.4,1401.0 1053.3,1401.4 1055.3,1401.8 1057.3,1402.3 1059.3,1402.7 1061.2,1403.1 1063.2,1403.5 1065.2,1403.9 1067.2,1404.3 1069.1,1404.7 1071.1,1405.1 1073.1,1405.4 1075.1,1405.8 1077.0,1406.2 1079.0,1406.5 1081.0,1406.8 1083.0,1407.2 1085.0,1407.5 1086.9,1407.8 1088.9,1408.1 1090.9,1408.4 1092.9,1408.7 1094.9,1409.0 1096.8,1409.2 1098.8,1409.5 1100.8,1409.7 1102.8,1410.0 1104.8,1410.2 1106.8,1410.4 1108.7,1410.6 1110.7,1410.8 1112.7,1411.0 1114.7,1411.1 1116.7,1411.3 1118.7,1411.4 1120.6,1411.5 1122.6,1411.7 1124.6,1411.8 1126.6,1411.8 1128.5,1411.9 1130.5,1412.0 1132.5,1412.0 1134.5,1412.0 1136.4,1412.1 1138.4,1412.1 1140.4,1412.0 1142.3,1412.0 1144.3,1412.0 1146.3,1411.9 1148.2,1411.8 1150.2,1411.7 1152.1,1411.6 1154.1,1411.5 1156.0,1411.4 1158.0,1411.2 1159.9,1411.0 1161.9,1410.8 1163.8,1410.6 1165.8,1410.4 1167.7,1410.1 1169.6,1409.9 1171.6,1409.6 1173.5,1409.3 1175.4,1409.0 1177.3,1408.6 1179.3,1408.3 1181.2,1407.9 1183.1,1407.5 1185.0,1407.0 1186.9,1406.6 1188.8,1406.2 1190.7,1405.7 1192.6,1405.2 1194.5,1404.7 1196.4,1404.1 1198.3,1403.6 1200.1,1403.0 1202.0,1402.4 1203.9,1401.8 1205.7,1401.2 1207.6,1400.6 1209.5,1399.9 1211.3,1399.2 1213.2,1398.5 1215.0,1397.8 1216.9,1397.1 1218.7,1396.4 1220.5,1395.6 1222.4,1394.9 1224.2,1394.1 1226.0,1393.3 1227.8,1392.5 1229.7,1391.7 1231.5,1390.8 1233.3,1390.0 1235.1,1389.1 1236.9,1388.2 1238.7,1387.3 1240.4,1386.4 1242.2,1385.5 1244.0,1384.6 1245.8,1383.6 1247.5,1382.7 1249.3,1381.7 1251.1,1380.7 1252.8,1379.7 1254.6,1378.7 1256.3,1377.7 1258.0,1376.7 1259.8,1375.6 1261.5,1374.6 1263.2,1373.5 1264.9,1372.5 1266.6,1371.4 1268.3,1370.3 1270.0,1369.2 1271.7,1368.1 1273.4,1367.0 1275.1,1365.9 1276.8,1364.7 1278.5,1363.6 1280.1,1362.4 1281.8,1361.3 1283.4,1360.1 1285.1,1358.9 1286.7,1357.8 1288.4,1356.6 1290.0,1355.4 1291.6,1354.2 1293.2,1353.0 1294.9,1351.8 1296.5,1350.5 1298.1,1349.3 1299.7,1348.1 1301.3,1346.8 1302.8,1345.6 1304.4,1344.3 1306.0,1343.1 1307.6,1341.8 1309.1,1340.6 1310.7,1339.3 1312.2,1338.0 1313.8,1336.7 1315.3,1335.4 1316.9,1334.2 1318.4,1332.9 1319.9,1331.6 1321.5,1330.2 1323.0,1328.9 1324.5,1327.6 1326.0,1326.3 1327.5,1325.0 1329.0,1323.7 1330.5,1322.3 1332.0,1321.0 1333.5,1319.6 1335.0,1318.3 1336.5,1317.0 1338.0,1315.6 1339.4,1314.3 1340.9,1312.9 1342.4,1311.5 1343.9,1310.2 1345.3,1308.8 1346.8,1307.4 1348.2,1306.1 1349.7,1304.7 1351.2,1303.3 1352.6,1301.9 1354.1,1300.5 1355.5,1299.2 1357.0,1297.8 1358.4,1296.4 1359.8,1295.0 1361.3,1293.6 1362.7,1292.2 1364.1,1290.8 1365.6,1289.4 1367.0,1288.0 1368.4,1286.6 1369.9,1285.2 1371.3,1283.8 1372.7,1282.4 1374.1,1281.0 1375.6,1279.6 1377.0,1278.2 1378.4,1276.7 1379.8,1275.3 1381.2,1273.9 1382.7,1272.5 1384.1,1271.1 1385.5,1269.7 1386.9,1268.3 1388.3,1266.8 1389.7,1265.4 1391.1,1264.0 1392.5,1262.6 1393.9,1261.2 1395.3,1259.7 1396.8,1258.3 1398.2,1256.9 1399.6,1255.5 1401.0,1254.0 1402.4,1252.6 1403.8,1251.2 1405.2,1249.7 1406.6,1248.3 1407.9,1246.9 1409.3,1245.4 1410.7,1244.0 1412.1,1242.6 1413.5,1241.1 1414.9,1239.7 1416.3,1238.3 1417.7,1236.8 1419.1,1235.4 1420.5,1233.9 1421.9,1232.5 1423.2,1231.1 1424.6,1229.6 1426.0,1228.2 1427.4,1226.7 1428.8,1225.3 1430.2,1223.9 1431.5,1222.4 1432.9,1221.0 1434.3,1219.5 1435.7,1218.1 1437.1,1216.6 1438.4,1215.2 1439.8,1213.7 1441.2,1212.3 1442.6,1210.8 1443.9,1209.4 1445.3,1207.9 1446.7,1206.5 1448.1,1205.0 1449.4,1203.6 1450.8,1202.1 1452.2,1200.7 1453.5,1199.2 1454.9,1197.7 1456.3,1196.3 1457.7,1194.8 1459.0,1193.4 1460.4,1191.9 1461.8,1190.5 1463.1,1189.0 1464.5,1187.5 1465.9,1186.1 1467.2,1184.6 1468.6,1183.2 1470.0,1181.7 1471.3,1180.2 1472.7,1178.8 1474.0,1177.3 1475.4,1175.9 1476.8,1174.4 1478.1,1172.9 1479.5,1171.5 1480.9,1170.0 1482.2,1168.6 1483.6,1167.1 1484.9,1165.6 1486.3,1164.2 1487.7,1162.7 1489.0,1161.2 1490.4,1159.8 1491.7,1158.3 1493.1,1156.8 1494.5,1155.4 1495.8,1153.9 1497.2,1152.5 1498.5,1151.0 1499.9,1149.5 1501.3,1148.1 1502.6,1146.6 1504.0,1145.1 1505.3,1143.7 1506.7,1142.2 1508.0,1140.7 1509.4,1139.3 1510.8,1137.8 1512.1,1136.3 1513.5,1134.9 1514.8,1133.4 1516.2,1131.9 1517.6,1130.5 1518.9,1129.0 1520.3,1127.5 1521.6,1126.1 1523.0,1124.6 1524.4,1123.2 1525.7,1121.7 1527.1,1120.2 1528.4,1118.8 1529.8,1117.3 1531.1,1115.8 1532.5,1114.4 1533.9,1112.9 1535.2,1111.4 1536.6,1110.0 1537.9,1108.5 1539.3,1107.0 1540.7,1105.6 1542.0,1104.1 1543.4,1102.7 1544.8,1101.2 1546.1,1099.7 1547.5,1098.3 1548.8,1096.8 1550.2,1095.4 1551.6,1093.9 1552.9,1092.4 1554.3,1091.0 1555.7,1089.5 1557.0,1088.1 1558.4,1086.6 1559.8,1085.1 1561.1,1083.7 1562.5,1082.2 1563.9,1080.8 1565.2,1079.3 1566.6,1077.9 1568.0,1076.4 1569.3,1074.9 1570.7,1073.5 1572.1,1072.0 1573.4,1070.6 1574.8,1069.1 1576.2,1067.7 1577.5,1066.2 1578.9,1064.8 1580.3,1063.3 1581.7,1061.9 1583.0,1060.4 1584.4,1059.0 1585.8,1057.5 1587.2,1056.1 1588.5,1054.6 1589.9,1053.2 1591.3,1051.7 1592.7,1050.3 1594.0,1048.8 1595.4,1047.4 1596.8,1045.9 1598.2,1044.5 1599.5,1043.0 1600.9,1041.6 1602.3,1040.1 1603.7,1038.7 1605.1,1037.2 1606.4,1035.8 1607.8,1034.4 1609.2,1032.9 1610.6,1031.5 1612.0,1030.0 1613.4,1028.6 1614.7,1027.1 1616.1,1025.7 1617.5,1024.3 1618.9,1022.8 1620.3,1021.4 1621.7,1019.9 1623.0,1018.5 1624.4,1017.1 1625.8,1015.6 1627.2,1014.2 1628.6,1012.7 1630.0,1011.3 1631.4,1009.9 1632.8,1008.4 1634.2,1007.0 1635.5,1005.6 1636.9,1004.1 1638.3,1002.7 1639.7,1001.3 1641.1,999.8 1642.5,998.4 1643.9,997.0 1645.3,995.5 1646.7,994.1 1648.1,992.7 1649.5,991.2 1650.9,989.8 1652.3,988.4 1653.7,986.9 1655.1,985.5 1656.5,984.1 1657.9,982.7 1659.3,981.2 1660.7,979.8 1662.1,978.4 1663.5,977.0 1664.9,975.5 1666.3,974.1 1667.7,972.7 1669.1,971.3 1670.5,969.8 1671.9,968.4 1673.3,967.0 1674.7,965.6 1676.1,964.1 1677.5,962.7 1678.9,961.3 1680.3,959.9 1681.7,958.5 1683.1,957.0 1684.5,955.6 1685.9,954.2 1687.3,952.8 1688.7,951.4 1690.1,950.0 1691.6,948.5 1693.0,947.1 1694.4,945.7 1695.8,944.3 1697.2,942.9 1698.6,941.5 1700.0,940.1 1701.4,938.6 1702.9,937.2 1704.3,935.8 1705.7,934.4 1707.1,933.0 1708.5,931.6 1709.9,930.2 1711.4,928.8 1712.8,927.4 1714.2,926.0 1715.6,924.5 1717.0,923.1 1718.5,921.7 1719.9,920.3 1721.3,918.9 1722.7,917.5 1724.1,916.1 1725.6,914.7 1727.0,913.3 1728.4,911.9 1729.8,910.5 1731.3,909.1 1732.7,907.7 1734.1,906.3 1735.5,904.9 1737.0,903.5 1738.4,902.1 1739.8,900.7 1741.3,899.3 1742.7,897.9 1744.1,896.5 1745.6,895.1 1747.0,893.7 1748.4,892.3 1749.8,890.9 1751.3,889.5 1752.7,888.1 1754.2,886.8 1755.6,885.4 1757.0,884.0 1758.5,882.6 1759.9,881.2 1761.3,879.8 1762.8,878.4 1764.2,877.0 1765.6,875.6 1767.1,874.2 1768.5,872.9 1770.0,871.5 1771.4,870.1 1772.9,868.7 1774.3,867.3 1775.7,865.9 1777.2,864.6 1778.6,863.2 1780.1,861.8 1781.5,860.4 1783.0,859.0 1784.4,857.6 1785.9,856.3 1787.3,854.9 1788.8,853.5 1790.2,852.1 1791.7,850.8 1793.1,849.4 1794.6,848.0 1796.0,846.6 1797.5,845.2 1798.9,843.9 1800.4,842.5 1801.8,841.1 1803.3,839.8 1804.7,838.4 1806.2,837.0 1807.7,835.6 1809.1,834.3 1810.6,832.9 1812.0,831.5 1813.5,830.2 1814.9,828.8 1816.4,827.4 1817.9,826.1 1819.3,824.7 1820.8,823.3 1822.3,822.0 1823.7,820.6 1825.2,819.2 1826.6,817.9 1828.1,816.5 1829.6,815.2 1831.0,813.8 1832.5,812.4 1834.0,811.1 1835.5,809.7 1836.9,808.4 1838.4,807.0 1839.9,805.6 1841.3,804.3 1842.8,802.9 1844.3,801.6 1845.8,800.2 1847.2,798.9 1848.7,797.5 1850.2,796.2 1851.7,794.8 1853.1,793.5 1854.6,792.1 1856.1,790.8 1857.6,789.4 1859.0,788.1 1860.5,786.7 1862.0,785.4 1863.5,784.0 1865.0,782.7 1866.5,781.3 1867.9,780.0 1869.4,778.6 1870.9,777.3 1872.4,776.0 1873.9,774.6 1875.4,773.3 1876.9,771.9 1878.3,770.6 1879.8,769.3 1881.3,767.9 1882.8,766.6 1884.3,765.2 1885.8,763.9 1887.3,762.6 1888.8,761.2 1890.3,759.9 1891.8,758.6 1893.3,757.2 1894.8,755.9 1896.3,754.6 1897.8,753.3 1899.3,751.9 1900.8,750.6 1902.3,749.3 1903.8,747.9 1905.3,746.6 1906.8,745.3 1908.3,744.0 1909.8,742.6 1911.3,741.3 1912.8,740.0 1914.3,738.7 1915.8,737.4 1917.3,736.0 1918.8,734.7 1920.3,733.4 1921.8,732.1 1923.3,730.8 1924.8,729.5 1926.3,728.1 1927.9,726.8 1929.4,725.5 1930.9,724.2 1932.4,722.9 1933.9,721.6 1935.4,720.3 1936.9,719.0 1938.5,717.7 1940.0,716.3 1941.5,715.0 1943.0,713.7 1944.5,712.4 1946.0,711.1 1947.6,709.8 1949.1,708.5 1950.6,707.2 1952.1,705.9 1953.7,704.6 1955.2,703.3 1956.7,702.0 1958.2,700.7 1959.8,699.4 1961.3,698.1 1962.8,696.9 1964.4,695.6 1965.9,694.3 1967.4,693.0 1968.9,691.7 1970.5,690.4 1972.0,689.1 1973.5,687.8 1975.1,686.5 1976.6,685.3 1978.2,684.0 1979.7,682.7 1981.2,681.4 1982.8,680.1 1984.3,678.8 1985.8,677.6 1987.4,676.3 1988.9,675.0 1990.5,673.7 1992.0,672.5 1993.6,671.2 1995.1,669.9 1996.6,668.6 1998.2,667.4 1999.7,666.1 2001.3,664.8 2002.8,663.6 2004.4,662.3 2005.9,661.0 2007.5,659.8 2009.0,658.5 2010.6,657.2 2012.1,656.0 2013.7,654.7 2015.3,653.4 2016.8,652.2 2018.4,650.9 2019.9,649.7 2021.5,648.4 2023.0,647.2 2024.6,645.9 2026.2,644.6 2027.7,643.4 2029.3,642.1 2030.8,640.9 2032.4,639.6 2034.0,638.4 2035.5,637.2 2037.1,635.9 2038.7,634.7 2040.2,633.4 2041.8,632.2 2043.4,630.9 2045.0,629.7 2046.5,628.5 2048.1,627.2 2049.7,626.0 2051.2,624.7 2052.8,623.5 2054.4,622.3 2056.0,621.0 2057.5,619.8 2059.1,618.6 2060.7,617.4 2062.3,616.1 2063.9,614.9 2065.4,613.7 2067.0,612.5 2068.6,611.2 2070.2,610.0 2071.8,608.8 2073.4,607.6 2074.9,606.4 2076.5,605.1 2078.1,603.9 2079.7,602.7 2081.3,601.5 2082.9,600.3 2084.5,599.1 2086.1,597.9 2087.7,596.6 2089.3,595.4 2090.9,594.2 2092.4,593.0 2094.0,591.8 2095.6,590.6 2097.2,589.4 2098.8,588.2 2100.4,587.0 2102.0,585.8 2103.6,584.6 2105.2,583.4 2106.8,582.2 2108.5,581.0 2110.1,579.9 2111.7,578.7 2113.3,577.5 2114.9,576.3 2116.5,575.1 2118.1,573.9 2119.7,572.7 2121.3,571.5 2122.9,570.4 2124.5,569.2 2126.2,568.0 2127.8,566.8 2129.4,565.7 2131.0,564.5 2132.6,563.3 2134.2,562.1 2135.9,561.0 2137.5,559.8 2139.1,558.6 2140.7,557.5 2142.3,556.3 2144.0,555.1 2145.6,554.0 2147.2,552.8 2148.8,551.6 2150.5,550.5 2152.1,549.3 2153.7,548.2 2155.4,547.0 2157.0,545.9 2158.6,544.7 2160.2,543.6 2161.9,542.4 2163.5,541.3 2165.1,540.1 2166.8,539.0 2168.4,537.8 2170.1,536.7 2171.7,535.5 2173.3,534.4 2175.0,533.3 2176.6,532.1 2178.3,531.0 2179.9,529.8 2181.6,528.7 2183.2,527.6 2184.8,526.4 2186.5,525.3 2188.1,524.2 2189.8,523.1 2191.4,521.9 2193.1,520.8 2194.7,519.7 2196.4,518.6 2198.0,517.5 2199.7,516.3 2201.4,515.2 2203.0,514.1 2204.7,513.0 2206.3,511.9 2208.0,510.8 2209.6,509.7 2211.3,508.6 2213.0,507.5 2214.6,506.3 2216.3,505.2 2218.0,504.1 2219.6,503.0 2221.3,501.9 2223.0,500.8 2224.6,499.8 2226.3,498.7 2228.0,497.6 2229.6,496.5 2231.3,495.4 2233.0,494.3 2234.7,493.2 2236.3,492.1 2238.0,491.0 2239.7,490.0 2241.4,488.9 2243.1,487.8 2244.7,486.7 2246.4,485.6 2248.1,484.6 2249.8,483.5 2251.5,482.4 2253.1,481.4 2254.8,480.3 2256.5,479.2 2258.0,478.3" stroke="#0000ff" stroke-width="5.2"/>
<g stroke="none"><ellipse cx="437.6" cy="1458.6" rx="6.0" ry="4.9" fill="#0000ff"/><ellipse cx="441.9" cy="1455.1" rx="6.0" ry="4.9" fill="#0000ff"/><ellipse cx="451.1" cy="1448.1" rx="6.0" ry="4.9" fill="#0000ff"/><ellipse cx="460.5" cy="1441.5" rx="6.0" ry="4.9" fill="#0000ff"/><ellipse cx="470.3" cy="1435.2" rx="6.0" ry="4.9" fill="#0000ff"/><ellipse cx="480.3" cy="1429.4" rx="6.0" ry="4.9" fill="#0000ff"/><ellipse cx="490.5" cy="1423.8" rx="6.0" ry="4.9" fill="#0000ff"/><ellipse cx="500.9" cy="1418.5" rx="6.0" ry="4.9" fill="#0000ff"/><ellipse cx="511.3" cy="1413.3" rx="6.0" ry="4.9" fill="#0000ff"/><ellipse cx="521.9" cy="1408.3" rx="6.0" ry="4.9" fill="#0000ff"/><ellipse cx="532.5" cy="1403.3" rx="6.0" ry="4.9" fill="#0000ff"/><ellipse cx="543.2" cy="1398.5" rx="6.0" ry="4.9" fill="#0000ff"/><ellipse cx="554.0" cy="1393.8" rx="6.0" ry="4.9" fill="#0000ff"/><ellipse cx="564.9" cy="1389.2" rx="6.0" ry="4.9" fill="#0000ff"/><ellipse cx="575.9" cy="1384.9" rx="6.0" ry="4.9" fill="#0000ff"/><ellipse cx="587.0" cy="1380.7" rx="6.0" ry="4.9" fill="#0000ff"/><ellipse cx="598.2" cy="1376.8" rx="6.0" ry="4.9" fill="#0000ff"/><ellipse cx="609.5" cy="1373.1" rx="6.0" ry="4.9" fill="#0000ff"/><ellipse cx="621.0" cy="1369.8" rx="6.0" ry="4.9" fill="#0000ff"/><ellipse cx="632.6" cy="1366.7" rx="6.0" ry="4.9" fill="#0000ff"/><ellipse cx="644.2" cy="1364.1" rx="6.0" ry="4.9" fill="#0000ff"/><ellipse cx="656.1" cy="1361.8" rx="6.0" ry="4.9" fill="#0000ff"/><ellipse cx="668.0" cy="1359.9" rx="6.0" ry="4.9" fill="#0000ff"/><ellipse cx="680.1" cy="1358.3" rx="6.0" ry="4.9" fill="#0000ff"/><ellipse cx="692.3" cy="1357.0" rx="6.0" ry="4.9" fill="#0000ff"/><ellipse cx="704.7" cy="1355.8" rx="6.0" ry="4.9" fill="#0000ff"/><ellipse cx="717.1" cy="1354.8" rx="6.0" ry="4.9" fill="#0000ff"/><ellipse cx="729.6" cy="1353.9" rx="6.0" ry="4.9" fill="#0000ff"/><ellipse cx="742.2" cy="1353.2" rx="6.0" ry="4.9" fill="#0000ff"/><ellipse cx="754.8" cy="1352.6" rx="6.0" ry="4.9" fill="#0000ff"/><ellipse cx="767.6" cy="1352.2" rx="6.0" ry="4.9" fill="#0000ff"/><ellipse cx="780.5" cy="1352.1" rx="6.0" ry="4.9" fill="#0000ff"/><ellipse cx="793.4" cy="1352.2" rx="6.0" ry="4.9" fill="#0000ff"/><ellipse cx="806.4" cy="1352.7" rx="6.0" ry="4.9" fill="#0000ff"/><ellipse cx="819.3" cy="1353.5" rx="6.0" ry="4.9" fill="#0000ff"/><ellipse cx="832.1" cy="1354.6" rx="6.0" ry="4.9" fill="#0000ff"/><ellipse cx="844.8" cy="1356.0" rx="6.0" ry="4.9" fill="#0000ff"/><ellipse cx="857.4" cy="1357.6" rx="6.0" ry="4.9" fill="#0000ff"/><ellipse cx="869.9" cy="1359.5" rx="6.0" ry="4.9" fill="#0000ff"/><ellipse cx="882.3" cy="1361.5" rx="6.0" ry="4.9" fill="#0000ff"/><ellipse cx="894.6" cy="1363.8" rx="6.0" ry="4.9" fill="#0000ff"/><ellipse cx="906.9" cy="1366.2" rx="6.0" ry="4.9" fill="#0000ff"/><ellipse cx="919.0" cy="1368.7" rx="6.0" ry="4.9" fill="#0000ff"/><ellipse cx="931.1" cy="1371.4" rx="6.0" ry="4.9" fill="#0000ff"/><ellipse cx="943.0" cy="1374.1" rx="6.0" ry="4.9" fill="#0000ff"/><ellipse cx="954.9" cy="1377.0" rx="6.0" ry="4.9" fill="#0000ff"/><ellipse cx="966.7" cy="1379.9" rx="6.0" ry="4.9" fill="#0000ff"/><ellipse cx="978.5" cy="1382.8" rx="6.0" ry="4.9" fill="#0000ff"/><ellipse cx="990.2" cy="1385.8" rx="6.0" ry="4.9" fill="#0000ff"/><ellipse cx="1001.7" cy="1388.7" rx="6.0" ry="4.9" fill="#0000ff"/><ellipse cx="1013.0" cy="1391.6" rx="6.0" ry="4.9" fill="#0000ff"/><ellipse cx="1024.0" cy="1394.4" rx="6.0" ry="4.9" fill="#0000ff"/><ellipse cx="1034.7" cy="1397.1" rx="6.0" ry="4.9" fill="#0000ff"/><ellipse cx="1045.1" cy="1399.5" rx="6.0" ry="4.9" fill="#0000ff"/><ellipse cx="1055.3" cy="1401.8" rx="6.0" ry="4.9" fill="#0000ff"/><ellipse cx="1065.2" cy="1403.9" rx="6.0" ry="4.9" fill="#0000ff"/><ellipse cx="1074.9" cy="1405.8" rx="6.0" ry="4.9" fill="#0000ff"/><ellipse cx="1084.3" cy="1407.4" rx="6.0" ry="4.9" fill="#0000ff"/><ellipse cx="1093.5" cy="1408.8" rx="6.0" ry="4.9" fill="#0000ff"/><ellipse cx="1102.5" cy="1409.9" rx="6.0" ry="4.9" fill="#0000ff"/><ellipse cx="1111.3" cy="1410.8" rx="6.0" ry="4.9" fill="#0000ff"/><ellipse cx="1119.9" cy="1411.5" rx="6.0" ry="4.9" fill="#0000ff"/><ellipse cx="1128.2" cy="1411.9" rx="6.0" ry="4.9" fill="#0000ff"/><ellipse cx="1136.3" cy="1412.1" rx="6.0" ry="4.9" fill="#0000ff"/><ellipse cx="1144.4" cy="1412.0" rx="6.0" ry="4.9" fill="#0000ff"/><ellipse cx="1152.7" cy="1411.6" rx="6.0" ry="4.9" fill="#0000ff"/><ellipse cx="1161.1" cy="1410.9" rx="6.0" ry="4.9" fill="#0000ff"/><ellipse cx="1169.7" cy="1409.9" rx="6.0" ry="4.9" fill="#0000ff"/><ellipse cx="1178.5" cy="1408.4" rx="6.0" ry="4.9" fill="#0000ff"/><ellipse cx="1187.4" cy="1406.5" rx="6.0" ry="4.9" fill="#0000ff"/><ellipse cx="1196.3" cy="1404.1" rx="6.0" ry="4.9" fill="#0000ff"/><ellipse cx="1205.4" cy="1401.3" rx="6.0" ry="4.9" fill="#0000ff"/><ellipse cx="1214.5" cy="1398.0" rx="6.0" ry="4.9" fill="#0000ff"/><ellipse cx="1223.7" cy="1394.3" rx="6.0" ry="4.9" fill="#0000ff"/><ellipse cx="1232.9" cy="1390.1" rx="6.0" ry="4.9" fill="#0000ff"/><ellipse cx="1242.1" cy="1385.5" rx="6.0" ry="4.9" fill="#0000ff"/><ellipse cx="1251.4" cy="1380.5" rx="6.0" ry="4.9" fill="#0000ff"/><ellipse cx="1260.9" cy="1374.9" rx="6.0" ry="4.9" fill="#0000ff"/><ellipse cx="1270.7" cy="1368.8" rx="6.0" ry="4.9" fill="#0000ff"/><ellipse cx="1280.7" cy="1362.0" rx="6.0" ry="4.9" fill="#0000ff"/><ellipse cx="1290.9" cy="1354.7" rx="6.0" ry="4.9" fill="#0000ff"/><ellipse cx="1301.3" cy="1346.8" rx="6.0" ry="4.9" fill="#0000ff"/><ellipse cx="1311.9" cy="1338.3" rx="6.0" ry="4.9" fill="#0000ff"/><ellipse cx="1322.6" cy="1329.3" rx="6.0" ry="4.9" fill="#0000ff"/><ellipse cx="1333.5" cy="1319.6" rx="6.0" ry="4.9" fill="#0000ff"/><ellipse cx="1345.3" cy="1308.8" rx="6.0" ry="4.9" fill="#0000ff"/><ellipse cx="1358.4" cy="1296.4" rx="6.0" ry="4.9" fill="#0000ff"/><ellipse cx="1371.3" cy="1283.8" rx="6.0" ry="4.9" fill="#0000ff"/><ellipse cx="1385.5" cy="1269.7" rx="6.0" ry="4.9" fill="#0000ff"/><ellipse cx="1399.6" cy="1255.5" rx="6.0" ry="4.9" fill="#0000ff"/><ellipse cx="1413.5" cy="1241.1" rx="6.0" ry="4.9" fill="#0000ff"/><ellipse cx="1428.8" cy="1225.3" rx="6.0" ry="4.9" fill="#0000ff"/><ellipse cx="1443.9" cy="1209.4" rx="6.0" ry="4.9" fill="#0000ff"/><ellipse cx="1461.8" cy="1190.5" rx="6.0" ry="4.9" fill="#0000ff"/><ellipse cx="1478.1" cy="1172.9" rx="6.0" ry="4.9" fill="#0000ff"/><ellipse cx="1495.8" cy="1153.9" rx="6.0" ry="4.9" fill="#0000ff"/><ellipse cx="1514.8" cy="1133.4" rx="6.0" ry="4.9" fill="#0000ff"/><ellipse cx="1533.9" cy="1112.9" rx="6.0" ry="4.9" fill="#0000ff"/><ellipse cx="1554.3" cy="1091.0" rx="6.0" ry="4.9" fill="#0000ff"/><ellipse cx="1576.2" cy="1067.7" rx="6.0" ry="4.9" fill="#0000ff"/><ellipse cx="1598.2" cy="1044.5" rx="6.0" ry="4.9" fill="#0000ff"/><ellipse cx="1621.7" cy="1019.9" rx="6.0" ry="4.9" fill="#0000ff"/><ellipse cx="1646.7" cy="994.1" rx="6.0" ry="4.9" fill="#0000ff"/><ellipse cx="1671.9" cy="968.4" rx="6.0" ry="4.9" fill="#0000ff"/><ellipse cx="1698.6" cy="941.5" rx="6.0" ry="4.9" fill="#0000ff"/><ellipse cx="1727.0" cy="913.3" rx="6.0" ry="4.9" fill="#0000ff"/><ellipse cx="1755.6" cy="885.4" rx="6.0" ry="4.9" fill="#0000ff"/><ellipse cx="1787.3" cy="854.9" rx="6.0" ry="4.9" fill="#0000ff"/><ellipse cx="1819.3" cy="824.7" rx="6.0" ry="4.9" fill="#0000ff"/><ellipse cx="1853.1" cy="793.5" rx="6.0" ry="4.9" fill="#0000ff"/><ellipse cx="1888.8" cy="761.2" rx="6.0" ry="4.9" fill="#0000ff"/><ellipse cx="1924.8" cy="729.5" rx="6.0" ry="4.9" fill="#0000ff"/><ellipse cx="1962.8" cy="696.9" rx="6.0" ry="4.9" fill="#0000ff"/><ellipse cx="2002.8" cy="663.6" rx="6.0" ry="4.9" fill="#0000ff"/><ellipse cx="2045.0" cy="629.7" rx="6.0" ry="4.9" fill="#0000ff"/><ellipse cx="2089.3" cy="595.4" rx="6.0" ry="4.9" fill="#0000ff"/><ellipse cx="2134.2" cy="562.1" rx="6.0" ry="4.9" fill="#0000ff"/><ellipse cx="2181.6" cy="528.7" rx="6.0" ry="4.9" fill="#0000ff"/><ellipse cx="2231.3" cy="495.4" rx="6.0" ry="4.9" fill="#0000ff"/></g>
<path d="M398.2,1530.8 399.4,1529.2 400.5,1527.6 401.7,1526.1 402.9,1524.5 404.1,1522.9 405.3,1521.3 406.6,1519.8 407.8,1518.2 409.0,1516.7 410.3,1515.1 411.5,1513.6 412.8,1512.1 414.1,1510.5 415.4,1509.0 416.6,1507.5 417.9,1506.0 419.3,1504.5 420.6,1503.0 421.9,1501.5 423.2,1500.0 424.6,1498.6 425.9,1497.1 427.3,1495.6 428.6,1494.2 430.0,1492.7 431.4,1491.3 432.7,1489.8 434.1,1488.4 435.5,1487.0 436.9,1485.6 438.4,1484.2 439.8,1482.7 441.2,1481.4 442.7,1480.0 444.1,1478.6 445.6,1477.2 447.0,1475.8 448.5,1474.5 450.0,1473.1 451.4,1471.8 452.9,1470.4 454.4,1469.1 455.9,1467.8 457.4,1466.4 458.9,1465.1 460.5,1463.8 462.0,1462.5 463.5,1461.2 465.1,1460.0 466.6,1458.7 468.2,1457.4 469.7,1456.2 471.3,1454.9 472.9,1453.7 474.5,1452.4 476.0,1451.2 477.6,1450.0 479.2,1448.8 480.8,1447.5 482.5,1446.3 484.1,1445.2 485.7,1444.0 487.3,1442.8 489.0,1441.6 490.6,1440.5 492.3,1439.3 493.9,1438.2 495.6,1437.1 497.2,1435.9 498.9,1434.8 500.6,1433.7 502.3,1432.6 503.9,1431.5 505.6,1430.4 507.3,1429.3 509.0,1428.3 510.7,1427.2 512.5,1426.2 514.2,1425.1 515.9,1424.1 517.6,1423.1 519.4,1422.1 521.1,1421.1 522.8,1420.1 524.6,1419.1 526.3,1418.1 528.1,1417.1 529.9,1416.2 531.6,1415.2 533.4,1414.3 535.2,1413.3 537.0,1412.4 538.8,1411.5 540.5,1410.6 542.3,1409.7 544.1,1408.8 545.9,1407.9 547.7,1407.0 549.6,1406.2 551.4,1405.3 553.2,1404.5 555.0,1403.7 556.9,1402.8 558.7,1402.0 560.5,1401.2 562.4,1400.4 564.2,1399.6 566.1,1398.9 567.9,1398.1 569.8,1397.4 571.6,1396.6 573.5,1395.9 575.3,1395.2 577.2,1394.4 579.1,1393.7 581.0,1393.0 582.8,1392.4 584.7,1391.7 586.6,1391.0 588.5,1390.4 590.4,1389.7 592.3,1389.1 594.2,1388.5 596.1,1387.9 598.0,1387.3 599.9,1386.7 601.8,1386.1 603.7,1385.5 605.6,1385.0 607.6,1384.4 609.5,1383.9 611.4,1383.4 613.3,1382.8 615.3,1382.3 617.2,1381.8 619.1,1381.4 621.1,1380.9 623.0,1380.4 624.9,1380.0 626.9,1379.5 628.8,1379.1 630.8,1378.7 632.7,1378.3 634.7,1377.9 636.6,1377.5 638.6,1377.1 640.6,1376.8 642.5,1376.4 644.5,1376.1 646.4,1375.8 648.4,1375.5 650.4,1375.2 652.3,1374.9 654.3,1374.6 656.3,1374.3 658.3,1374.1 660.2,1373.8 662.2,1373.6 664.2,1373.4 666.2,1373.2 668.1,1373.0 670.1,1372.8 672.1,1372.6 674.1,1372.4 676.1,1372.3 678.0,1372.2 680.0,1372.0 682.0,1371.9 684.0,1371.8 686.0,1371.7 688.0,1371.7 690.0,1371.6 692.0,1371.6 694.0,1371.5 695.9,1371.5 697.9,1371.5 699.9,1371.5 701.9,1371.5 703.9,1371.5 705.9,1371.6 707.9,1371.6 709.9,1371.7 711.9,1371.7 713.9,1371.8 715.9,1371.9 717.9,1372.0 719.9,1372.2 721.9,1372.3 723.8,1372.5 725.8,1372.6 727.8,1372.8 729.8,1373.0 731.8,1373.2 733.8,1373.4 735.8,1373.7 737.8,1373.9 739.8,1374.2 741.8,1374.4 743.8,1374.7 745.8,1375.0 747.7,1375.3 749.7,1375.6 751.7,1376.0 753.7,1376.3 755.7,1376.6 757.7,1377.0 759.6,1377.3 761.6,1377.7 763.6,1378.0 765.6,1378.4 767.6,1378.8 769.5,1379.1 771.5,1379.5 773.5,1379.9 775.4,1380.2 777.4,1380.6 779.4,1381.0 781.3,1381.3 783.3,1381.7 785.2,1382.0 787.2,1382.4 789.1,1382.7 791.1,1383.0 793.0,1383.4 795.0,1383.7 796.9,1384.0 798.8,1384.3 800.8,1384.6 802.7,1385.0 804.6,1385.3 806.6,1385.6 808.5,1386.0 810.4,1386.4 812.3,1386.8 814.2,1387.3 816.1,1387.8 818.0,1388.3 819.9,1388.8 821.8,1389.5 823.7,1390.1 825.6,1390.8 827.5,1391.6 829.3,1392.5 831.2,1393.4 833.1,1394.3 834.9,1395.3 836.8,1396.3 838.7,1397.3 840.5,1398.3 842.4,1399.2 844.2,1400.0 846.0,1400.8 847.9,1401.5 849.7,1402.2 851.5,1402.9 853.4,1403.6 855.2,1404.3 857.0,1405.0 858.8,1405.7 860.7,1406.4 862.5,1407.2 864.3,1408.0 866.1,1408.7 867.9,1409.6 869.8,1410.4 871.6,1411.2 873.4,1412.0 875.2,1412.8 877.0,1413.6 878.8,1414.3 880.6,1415.0 882.4,1415.8 884.2,1416.5 886.1,1417.1 887.9,1417.8 889.7,1418.4 891.5,1419.1 893.3,1419.7 895.1,1420.3 896.9,1420.9 898.8,1421.6 900.6,1422.2 902.4,1422.8 904.2,1423.4 906.0,1424.1 907.9,1424.7 909.7,1425.3 911.5,1426.0 913.4,1426.7 915.2,1427.4 917.1,1428.1 918.9,1428.8 920.8,1429.6 922.6,1430.3 924.5,1431.1 926.3,1431.9 928.2,1432.6 930.1,1433.4 931.9,1434.2 933.8,1435.0 935.7,1435.8 937.6,1436.7 939.5,1437.5 941.4,1438.3 943.3,1439.1 945.2,1439.9 947.1,1440.7 949.0,1441.5 950.9,1442.2 952.9,1443.0 954.8,1443.8 956.7,1444.5 958.7,1445.3 960.7,1446.0 962.6,1446.7 964.6,1447.4 966.6,1448.1 968.5,1448.7 970.5,1449.3 972.5,1449.9 974.5,1450.5 976.6,1451.1 978.6,1451.6 980.6,1452.1 982.6,1452.5 984.7,1453.0 986.7,1453.4 988.7,1453.7 990.7,1454.1 992.7,1454.4 994.8,1454.6 996.8,1454.8 998.8,1455.0 1000.8,1455.1 1002.8,1455.2 1004.7,1455.2 1006.7,1455.2 1008.7,1455.2 1010.6,1455.1 1012.6,1454.9 1014.5,1454.7 1016.4,1454.4 1018.3,1454.1 1020.2,1453.8 1022.0,1453.4 1023.9,1452.9 1025.7,1452.5 1027.6,1451.9 1029.4,1451.4 1031.2,1450.8 1033.0,1450.1 1034.8,1449.5 1036.6,1448.7 1038.3,1448.0 1040.1,1447.2 1041.8,1446.4 1043.6,1445.5 1045.3,1444.6 1047.0,1443.7 1048.7,1442.8 1050.4,1441.8 1052.1,1440.8 1053.8,1439.8 1055.4,1438.7 1057.1,1437.6 1058.7,1436.5 1060.4,1435.4 1062.0,1434.2 1063.6,1433.1 1065.2,1431.9 1066.8,1430.7 1068.4,1429.4 1070.0,1428.2 1071.5,1426.9 1073.1,1425.6 1074.7,1424.4 1076.2,1423.0 1077.7,1421.7 1079.3,1420.4 1080.8,1419.1 1082.3,1417.7 1083.8,1416.4 1085.3,1415.0 1086.8,1413.6 1088.3,1412.2 1089.8,1410.9 1091.3,1409.5 1092.7,1408.1 1094.2,1406.7 1095.6,1405.3 1097.1,1403.9 1098.5,1402.5 1099.9,1401.1 1101.4,1399.6 1102.8,1398.2 1104.2,1396.8 1105.6,1395.3 1107.0,1393.9 1108.4,1392.5 1109.8,1391.0 1111.2,1389.6 1112.5,1388.1 1113.9,1386.6 1115.3,1385.2 1116.6,1383.7 1118.0,1382.2 1119.3,1380.7 1120.6,1379.2 1122.0,1377.8 1123.3,1376.3 1124.6,1374.8 1125.9,1373.3 1127.2,1371.8 1128.6,1370.2 1129.9,1368.7 1131.2,1367.2 1132.4,1365.7 1133.7,1364.2 1135.0,1362.6 1136.3,1361.1 1137.6,1359.6 1138.8,1358.0 1140.1,1356.5 1141.3,1354.9 1142.6,1353.4 1143.8,1351.8 1145.1,1350.3 1146.3,1348.7 1147.5,1347.1 1148.8,1345.6 1150.0,1344.0 1151.2,1342.4 1152.4,1340.8 1153.6,1339.3 1154.9,1337.7 1156.1,1336.1 1157.3,1334.5 1158.5,1332.9 1159.7,1331.3 1160.8,1329.7 1162.0,1328.1 1163.2,1326.5 1164.4,1324.9 1165.6,1323.3 1166.7,1321.7 1167.9,1320.1 1169.1,1318.5 1170.2,1316.8 1171.4,1315.2 1172.6,1313.6 1173.7,1312.0 1174.9,1310.4 1176.0,1308.7 1177.2,1307.1 1178.3,1305.5 1179.4,1303.8 1180.6,1302.2 1181.7,1300.5 1182.8,1298.9 1184.0,1297.3 1185.1,1295.6 1186.2,1294.0 1187.3,1292.3 1188.5,1290.7 1189.6,1289.0 1190.7,1287.4 1191.8,1285.7 1192.9,1284.1 1194.0,1282.4 1195.2,1280.7 1196.3,1279.1 1197.4,1277.4 1198.5,1275.8 1199.6,1274.1 1200.7,1272.4 1201.8,1270.8 1202.9,1269.1 1204.0,1267.4 1205.1,1265.8 1206.2,1264.1 1207.3,1262.4 1208.4,1260.8 1209.5,1259.1 1210.5,1257.4 1211.6,1255.7 1212.7,1254.1 1213.8,1252.4 1214.9,1250.7 1216.0,1249.0 1217.1,1247.4 1218.2,1245.7 1219.3,1244.0 1220.3,1242.3 1221.4,1240.7 1222.5,1239.0 1223.6,1237.3 1224.7,1235.6 1225.8,1233.9 1226.9,1232.3 1228.0,1230.6 1229.0,1228.9 1230.1,1227.2 1231.2,1225.6 1232.3,1223.9 1233.4,1222.2 1234.5,1220.5 1235.6,1218.9 1236.7,1217.2 1237.8,1215.5 1238.9,1213.8 1239.9,1212.2 1241.0,1210.5 1242.1,1208.8 1243.2,1207.1 1244.3,1205.5 1245.4,1203.8 1246.5,1202.1 1247.6,1200.5 1248.7,1198.8 1249.8,1197.1 1250.9,1195.5 1252.0,1193.8 1253.1,1192.1 1254.2,1190.5 1255.3,1188.8 1256.4,1187.1 1257.5,1185.5 1258.6,1183.8 1259.7,1182.1 1260.8,1180.5 1262.0,1178.8 1263.1,1177.1 1264.2,1175.5 1265.3,1173.8 1266.4,1172.1 1267.5,1170.5 1268.6,1168.8 1269.7,1167.2 1270.8,1165.5 1271.9,1163.8 1273.1,1162.2 1274.2,1160.5 1275.3,1158.8 1276.4,1157.2 1277.5,1155.5 1278.6,1153.9 1279.7,1152.2 1280.9,1150.6 1282.0,1148.9 1283.1,1147.2 1284.2,1145.6 1285.3,1143.9 1286.5,1142.3 1287.6,1140.6 1288.7,1139.0 1289.8,1137.3 1290.9,1135.7 1292.1,1134.0 1293.2,1132.3 1294.3,1130.7 1295.4,1129.0 1296.6,1127.4 1297.7,1125.7 1298.8,1124.1 1299.9,1122.4 1301.1,1120.8 1302.2,1119.1 1303.3,1117.5 1304.4,1115.8 1305.6,1114.2 1306.7,1112.5 1307.8,1110.9 1309.0,1109.2 1310.1,1107.6 1311.2,1105.9 1312.4,1104.3 1313.5,1102.6 1314.6,1101.0 1315.8,1099.3 1316.9,1097.7 1318.0,1096.1 1319.2,1094.4 1320.3,1092.8 1321.4,1091.1 1322.6,1089.5 1323.7,1087.8 1324.8,1086.2 1326.0,1084.5 1327.1,1082.9 1328.3,1081.3 1329.4,1079.6 1330.5,1078.0 1331.7,1076.3 1332.8,1074.7 1334.0,1073.0 1335.1,1071.4 1336.2,1069.8 1337.4,1068.1 1338.5,1066.5 1339.7,1064.8 1340.8,1063.2 1342.0,1061.6 1343.1,1059.9 1344.3,1058.3 1345.4,1056.6 1346.5,1055.0 1347.7,1053.4 1348.8,1051.7 1350.0,1050.1 1351.1,1048.5 1352.3,1046.8 1353.4,1045.2 1354.6,1043.5 1355.7,1041.9 1356.9,1040.3 1358.0,1038.6 1359.2,1037.0 1360.3,1035.4 1361.5,1033.7 1362.6,1032.1 1363.8,1030.5 1364.9,1028.8 1366.1,1027.2 1367.2,1025.6 1368.4,1023.9 1369.5,1022.3 1370.7,1020.7 1371.9,1019.0 1373.0,1017.4 1374.2,1015.8 1375.3,1014.1 1376.5,1012.5 1377.6,1010.9 1378.8,1009.2 1379.9,1007.6 1381.1,1006.0 1382.3,1004.3 1383.4,1002.7 1384.6,1001.1 1385.7,999.4 1386.9,997.8 1388.1,996.2 1389.2,994.6 1390.4,992.9 1391.5,991.3 1392.7,989.7 1393.9,988.0 1395.0,986.4 1396.2,984.8 1397.3,983.2 1398.5,981.5 1399.7,979.9 1400.8,978.3 1402.0,976.6 1403.2,975.0 1404.3,973.4 1405.5,971.8 1406.7,970.1 1407.8,968.5 1409.0,966.9 1410.1,965.3 1411.3,963.6 1412.5,962.0 1413.6,960.4 1414.8,958.8 1416.0,957.1 1417.1,955.5 1418.3,953.9 1419.5,952.3 1420.6,950.6 1421.8,949.0 1423.0,947.4 1424.1,945.8 1425.3,944.1 1426.5,942.5 1427.7,940.9 1428.8,939.3 1430.0,937.6 1431.2,936.0 1432.3,934.4 1433.5,932.8 1434.7,931.2 1435.8,929.5 1437.0,927.9 1438.2,926.3 1439.4,924.7 1440.5,923.1 1441.7,921.4 1442.9,919.8 1444.1,918.2 1445.2,916.6 1446.4,914.9 1447.6,913.3 1448.7,911.7 1449.9,910.1 1451.1,908.5 1452.3,906.9 1453.4,905.2 1454.6,903.6 1455.8,902.0 1457.0,900.4 1458.2,898.8 1459.3,897.1 1460.5,895.5 1461.7,893.9 1462.9,892.3 1464.0,890.7 1465.2,889.1 1466.4,887.4 1467.6,885.8 1468.8,884.2 1469.9,882.6 1471.1,881.0 1472.3,879.4 1473.5,877.8 1474.7,876.1 1475.8,874.5 1477.0,872.9 1478.2,871.3 1479.4,869.7 1480.6,868.1 1481.8,866.5 1483.0,864.8 1484.1,863.2 1485.3,861.6 1486.5,860.0 1487.7,858.4 1488.9,856.8 1490.1,855.2 1491.3,853.6 1492.4,852.0 1493.6,850.4 1494.8,848.7 1496.0,847.1 1497.2,845.5 1498.4,843.9 1499.6,842.3 1500.8,840.7 1502.0,839.1 1503.1,837.5 1504.3,835.9 1505.5,834.3 1506.7,832.7 1507.9,831.1 1509.1,829.5 1510.3,827.9 1511.5,826.2 1512.7,824.6 1513.9,823.0 1515.1,821.4 1516.3,819.8 1517.5,818.2 1518.7,816.6 1519.9,815.0 1521.1,813.4 1522.3,811.8 1523.5,810.2 1524.7,808.6 1525.9,807.0 1527.1,805.4 1528.3,803.8 1529.5,802.2 1530.7,800.6 1531.9,799.0 1533.1,797.4 1534.3,795.8 1535.5,794.2 1536.7,792.6 1537.9,791.0 1539.1,789.4 1540.3,787.8 1541.5,786.3 1542.7,784.7 1543.9,783.1 1545.1,781.5 1546.3,779.9 1547.5,778.3 1548.8,776.7 1550.0,775.1 1551.2,773.5 1552.4,771.9 1553.6,770.3 1554.8,768.7 1556.0,767.1 1557.2,765.5 1558.5,764.0 1559.7,762.4 1560.9,760.8 1562.1,759.2 1563.3,757.6 1564.5,756.0 1565.7,754.4 1567.0,752.8 1568.2,751.3 1569.4,749.7 1570.6,748.1 1571.8,746.5 1573.1,744.9 1574.3,743.3 1575.5,741.8 1576.7,740.2 1577.9,738.6 1579.2,737.0 1580.4,735.4 1581.6,733.8 1582.8,732.3 1584.1,730.7 1585.3,729.1 1586.5,727.5 1587.7,725.9 1589.0,724.4 1590.2,722.8 1591.4,721.2 1592.7,719.6 1593.9,718.1 1595.1,716.5 1596.4,714.9 1597.6,713.3 1598.8,711.8 1600.1,710.2 1601.3,708.6 1602.5,707.0 1603.8,705.5 1605.0,703.9 1606.2,702.3 1607.5,700.8 1608.7,699.2 1609.9,697.6 1611.2,696.0 1612.4,694.5 1613.7,692.9 1614.9,691.3 1616.1,689.8 1617.4,688.2 1618.6,686.6 1619.9,685.1 1621.1,683.5 1622.4,681.9 1623.6,680.4 1624.9,678.8 1626.1,677.3 1627.3,675.7 1628.6,674.1 1629.8,672.6 1631.1,671.0 1632.3,669.5 1633.6,667.9 1634.8,666.3 1636.1,664.8 1637.4,663.2 1638.6,661.7 1639.9,660.1 1641.1,658.6 1642.4,657.0 1643.6,655.4 1644.9,653.9 1646.1,652.3 1647.4,650.8 1648.7,649.2 1649.9,647.7 1651.2,646.1 1652.4,644.6 1653.7,643.0 1655.0,641.5 1656.2,639.9 1657.5,638.4 1658.8,636.8 1660.0,635.3 1661.3,633.7 1662.6,632.2 1663.8,630.6 1665.1,629.1 1666.4,627.6 1667.6,626.0 1668.9,624.5 1670.2,622.9 1671.5,621.4 1672.7,619.8 1674.0,618.3 1675.3,616.8 1676.6,615.2 1677.8,613.7 1679.1,612.2 1680.4,610.6 1681.7,609.1 1682.9,607.5 1684.2,606.0 1685.5,604.5 1686.8,602.9 1688.1,601.4 1689.4,599.9 1690.6,598.3 1691.9,596.8 1693.2,595.3 1694.5,593.8 1695.8,592.2 1697.1,590.7 1698.4,589.2 1699.7,587.6 1700.9,586.1 1702.2,584.6 1703.5,583.1 1704.8,581.5 1706.1,580.0 1707.4,578.5 1708.7,577.0 1710.0,575.5 1711.3,573.9 1712.6,572.4 1713.9,570.9 1715.2,569.4 1716.5,567.9 1717.8,566.3 1719.1,564.8 1720.4,563.3 1721.7,561.8 1723.0,560.3 1724.3,558.8 1725.6,557.2 1726.9,555.7 1728.2,554.2 1729.6,552.7 1730.9,551.2 1732.2,549.7 1733.5,548.2 1734.8,546.7 1736.1,545.2 1737.4,543.7 1738.7,542.2 1740.1,540.7 1741.4,539.2 1742.7,537.6 1744.0,536.1 1745.3,534.6 1746.7,533.1 1748.0,531.6 1749.3,530.1 1750.6,528.6 1751.9,527.1 1753.3,525.6 1754.6,524.2 1755.9,522.7 1757.3,521.2 1758.6,519.7 1759.9,518.2 1761.2,516.7 1762.6,515.2 1763.9,513.7 1765.2,512.2 1766.6,510.7 1767.9,509.2 1769.2,507.7 1770.6,506.3 1771.9,504.8 1773.3,503.3 1774.6,501.8 1775.9,500.3 1777.3,498.8 1778.6,497.3 1780.0,495.9 1781.3,494.4 1782.6,492.9 1784.0,491.4 1785.3,489.9 1786.7,488.5 1788.0,487.0 1789.4,485.5 1790.7,484.0 1792.1,482.5 1793.4,481.1 1794.8,479.6 1796.1,478.1 1797.5,476.7 1798.8,475.2 1800.2,473.7 1801.6,472.2 1802.9,470.8 1804.3,469.3 1805.6,467.8 1807.0,466.4 1808.3,464.9 1809.7,463.4 1811.1,462.0 1812.4,460.5 1813.8,459.0 1815.2,457.6 1816.5,456.1 1817.9,454.7 1819.3,453.2 1820.6,451.7 1822.0,450.3 1823.4,448.8 1824.7,447.4 1826.1,445.9 1827.5,444.4 1828.8,443.0 1830.2,441.5 1831.6,440.1 1833.0,438.6 1834.3,437.2 1835.7,435.7 1837.1,434.3 1838.5,432.8 1839.9,431.4 1841.2,429.9 1842.6,428.5 1844.0,427.0 1845.4,425.6 1846.8,424.1 1848.2,422.7 1849.5,421.3 1850.9,419.8 1852.3,418.4 1853.7,416.9 1855.1,415.5 1856.5,414.1 1857.9,412.6 1859.3,411.2 1860.7,409.7 1862.0,408.3 1863.4,406.9 1864.8,405.4 1866.2,404.0 1867.6,402.6 1869.0,401.1 1870.4,399.7 1871.8,398.3 1873.2,396.8 1874.6,395.4 1876.0,394.0 1877.4,392.6 1878.8,391.1 1880.2,389.7 1881.6,388.3 1883.0,386.8 1884.4,385.4 1885.8,384.0 1887.2,382.6 1888.7,381.2 1890.1,379.7 1891.5,378.3 1892.9,376.9 1894.3,375.5 1895.7,374.1 1897.1,372.6 1898.5,371.2 1899.9,369.8 1901.4,368.4 1902.8,367.0 1904.2,365.6 1905.6,364.2 1907.0,362.7 1908.4,361.3 1909.9,359.9 1911.3,358.5 1912.7,357.1 1914.1,355.7 1915.6,354.3 1917.0,352.9 1918.4,351.5 1919.8,350.1 1921.3,348.7 1922.7,347.3 1924.1,345.9 1925.5,344.5 1927.0,343.1 1928.4,341.7 1929.8,340.3 1931.3,338.9 1932.7,337.5 1934.1,336.1 1935.6,334.7 1937.0,333.3 1938.4,331.9 1939.9,330.5 1941.3,329.1 1942.7,327.7 1944.2,326.3 1945.6,324.9 1947.1,323.5 1948.5,322.1 1949.9,320.8 1951.4,319.4 1952.8,318.0 1954.3,316.6 1955.7,315.2 1957.2,313.8 1958.6,312.5 1960.1,311.1 1961.5,309.7 1962.9,308.3 1964.4,306.9 1965.8,305.5 1967.3,304.2 1968.8,302.8 1970.2,301.4 1971.7,300.0 1973.1,298.7 1974.6,297.3 1976.0,295.9 1977.5,294.5 1978.9,293.2 1980.4,291.8 1981.8,290.4 1983.3,289.1 1984.8,287.7 1986.2,286.3 1987.7,285.0 1989.2,283.6 1990.6,282.2 1992.1,280.9 1993.5,279.5 1995.0,278.1 1996.5,276.8 1997.9,275.4 1999.4,274.1 2000.9,272.7 2002.3,271.3 2003.8,270.0 2005.3,268.6 2006.8,267.3 2008.2,265.9 2009.7,264.5 2011.2,263.2 2012.6,261.8 2014.1,260.5 2015.6,259.1 2017.1,257.8 2018.5,256.4 2020.0,255.1 2021.5,253.7 2023.0,252.4 2024.5,251.0 2025.9,249.7 2027.4,248.4 2028.9,247.0 2030.4,245.7 2031.9,244.3 2033.4,243.0 2034.8,241.6 2036.3,240.3 2037.8,239.0 2039.3,237.6 2040.8,236.3 2042.3,234.9 2043.8,233.6 2045.3,232.3 2046.7,230.9 2048.2,229.6 2049.7,228.3 2051.2,226.9 2052.7,225.6 2054.2,224.3 2055.7,223.0 2057.2,221.6 2058.7,220.3 2060.2,219.0 2061.7,217.6 2063.2,216.3 2064.7,215.0 2066.2,213.7 2067.7,212.3 2069.2,211.0 2070.7,209.7 2072.2,208.4 2073.7,207.1 2075.2,205.7 2076.7,204.4 2078.2,203.1 2079.7,201.8 2081.2,200.5 2082.7,199.2 2084.2,197.9 2085.8,196.5 2087.3,195.2 2088.8,193.9 2090.3,192.6 2091.8,191.3 2093.3,190.0 2094.8,188.7 2096.3,187.4 2097.8,186.1 2099.4,184.8 2100.9,183.5 2102.4,182.2 2103.9,180.8 2105.4,179.5 2107.0,178.2 2108.5,176.9 2110.0,175.6 2111.5,174.3 2113.0,173.0 2114.6,171.8 2116.1,170.5 2117.6,169.2 2119.1,167.9 2120.7,166.6 2122.2,165.3 2123.7,164.0 2125.2,162.7 2126.8,161.4 2128.3,160.1 2129.8,158.8 2131.3,157.5 2132.9,156.3 2134.4,155.0 2135.9,153.7 2137.5,152.4 2139.0,151.1 2140.5,149.8 2142.1,148.5 2143.6,147.3 2145.1,146.0 2146.7,144.7 2148.2,143.4 2149.8,142.2 2151.3,140.9 2152.8,139.6 2154.4,138.3 2155.9,137.0 2157.5,135.8 2159.0,134.5 2160.5,133.2 2162.1,132.0 2163.6,130.7 2165.2,129.4 2166.7,128.2 2168.3,126.9 2169.8,125.6 2171.4,124.4 2172.9,123.1 2174.4,121.8 2176.0,120.6 2177.5,119.3 2179.1,118.0 2180.7,116.8 2182.2,115.5 2183.8,114.3 2185.3,113.0 2186.9,111.7 2188.4,110.5 2190.0,109.2 2191.5,108.0 2193.1,106.7 2194.6,105.5 2196.2,104.2 2197.8,103.0 2199.3,101.7 2200.9,100.5 2202.4,99.2 2204.0,98.0 2205.6,96.7 2207.1,95.5 2208.7,94.2 2210.2,93.0 2211.8,91.7 2213.4,90.5 2214.9,89.3 2216.5,88.0 2218.1,86.8 2219.6,85.5 2221.2,84.3 2222.8,83.1 2224.3,81.8 2225.9,80.6 2227.5,79.4 2229.1,78.1 2230.6,76.9 2232.2,75.7 2233.8,74.4 2235.3,73.2 2236.9,72.0 2238.5,70.7 2240.1,69.5 2241.6,68.3 2243.2,67.1 2244.8,65.8 2246.4,64.6 2248.0,63.4 2249.5,62.2 2251.1,60.9 2252.7,59.7 2254.3,58.5 2255.9,57.3 2257.4,56.1 2258.3,55.4" stroke="#00ff00" stroke-width="5.6"/>
<g stroke="none"><path d="M391.6,1535.1 h13.2 l-6.6,-10.2 z" fill="#00ff00"/><path d="M397.8,1526.8 h13.2 l-6.6,-10.2 z" fill="#00ff00"/><path d="M404.7,1518.2 h13.2 l-6.6,-10.2 z" fill="#00ff00"/><path d="M411.8,1509.8 h13.2 l-6.6,-10.2 z" fill="#00ff00"/><path d="M419.2,1501.5 h13.2 l-6.6,-10.2 z" fill="#00ff00"/><path d="M426.8,1493.5 h13.2 l-6.6,-10.2 z" fill="#00ff00"/><path d="M434.7,1485.6 h13.2 l-6.6,-10.2 z" fill="#00ff00"/><path d="M442.8,1477.9 h13.2 l-6.6,-10.2 z" fill="#00ff00"/><path d="M451.1,1470.5 h13.2 l-6.6,-10.2 z" fill="#00ff00"/><path d="M459.6,1463.3 h13.2 l-6.6,-10.2 z" fill="#00ff00"/><path d="M468.4,1456.3 h13.2 l-6.6,-10.2 z" fill="#00ff00"/><path d="M477.3,1449.5 h13.2 l-6.6,-10.2 z" fill="#00ff00"/><path d="M486.5,1443.0 h13.2 l-6.6,-10.2 z" fill="#00ff00"/><path d="M495.9,1436.7 h13.2 l-6.6,-10.2 z" fill="#00ff00"/><path d="M505.4,1430.7 h13.2 l-6.6,-10.2 z" fill="#00ff00"/><path d="M515.2,1425.0 h13.2 l-6.6,-10.2 z" fill="#00ff00"/><path d="M525.1,1419.5 h13.2 l-6.6,-10.2 z" fill="#00ff00"/><path d="M535.2,1414.2 h13.2 l-6.6,-10.2 z" fill="#00ff00"/><path d="M545.5,1409.3 h13.2 l-6.6,-10.2 z" fill="#00ff00"/><path d="M556.0,1404.6 h13.2 l-6.6,-10.2 z" fill="#00ff00"/><path d="M566.6,1400.3 h13.2 l-6.6,-10.2 z" fill="#00ff00"/><path d="M577.3,1396.3 h13.2 l-6.6,-10.2 z" fill="#00ff00"/><path d="M588.2,1392.6 h13.2 l-6.6,-10.2 z" fill="#00ff00"/><path d="M599.3,1389.2 h13.2 l-6.6,-10.2 z" fill="#00ff00"/><path d="M610.5,1386.2 h13.2 l-6.6,-10.2 z" fill="#00ff00"/><path d="M621.8,1383.5 h13.2 l-6.6,-10.2 z" fill="#00ff00"/><path d="M633.2,1381.2 h13.2 l-6.6,-10.2 z" fill="#00ff00"/><path d="M644.7,1379.3 h13.2 l-6.6,-10.2 z" fill="#00ff00"/><path d="M656.3,1377.8 h13.2 l-6.6,-10.2 z" fill="#00ff00"/><path d="M668.0,1376.7 h13.2 l-6.6,-10.2 z" fill="#00ff00"/><path d="M679.7,1376.0 h13.2 l-6.6,-10.2 z" fill="#00ff00"/><path d="M691.5,1375.8 h13.2 l-6.6,-10.2 z" fill="#00ff00"/><path d="M703.3,1376.0 h13.2 l-6.6,-10.2 z" fill="#00ff00"/><path d="M715.0,1376.6 h13.2 l-6.6,-10.2 z" fill="#00ff00"/><path d="M726.6,1377.7 h13.2 l-6.6,-10.2 z" fill="#00ff00"/><path d="M738.1,1379.2 h13.2 l-6.6,-10.2 z" fill="#00ff00"/><path d="M749.5,1381.0 h13.2 l-6.6,-10.2 z" fill="#00ff00"/><path d="M760.9,1383.0 h13.2 l-6.6,-10.2 z" fill="#00ff00"/><path d="M772.2,1385.1 h13.2 l-6.6,-10.2 z" fill="#00ff00"/><path d="M783.4,1387.2 h13.2 l-6.6,-10.2 z" fill="#00ff00"/><path d="M794.7,1389.0 h13.2 l-6.6,-10.2 z" fill="#00ff00"/><path d="M805.8,1391.2 h13.2 l-6.6,-10.2 z" fill="#00ff00"/><path d="M816.7,1394.3 h13.2 l-6.6,-10.2 z" fill="#00ff00"/><path d="M827.0,1398.9 h13.2 l-6.6,-10.2 z" fill="#00ff00"/><path d="M836.9,1404.0 h13.2 l-6.6,-10.2 z" fill="#00ff00"/><path d="M847.3,1408.1 h13.2 l-6.6,-10.2 z" fill="#00ff00"/><path d="M857.7,1412.2 h13.2 l-6.6,-10.2 z" fill="#00ff00"/><path d="M867.8,1416.8 h13.2 l-6.6,-10.2 z" fill="#00ff00"/><path d="M878.1,1420.9 h13.2 l-6.6,-10.2 z" fill="#00ff00"/><path d="M888.5,1424.6 h13.2 l-6.6,-10.2 z" fill="#00ff00"/><path d="M898.7,1428.1 h13.2 l-6.6,-10.2 z" fill="#00ff00"/><path d="M908.6,1431.7 h13.2 l-6.6,-10.2 z" fill="#00ff00"/><path d="M918.1,1435.5 h13.2 l-6.6,-10.2 z" fill="#00ff00"/><path d="M927.2,1439.3 h13.2 l-6.6,-10.2 z" fill="#00ff00"/><path d="M936.1,1443.1 h13.2 l-6.6,-10.2 z" fill="#00ff00"/><path d="M944.8,1446.7 h13.2 l-6.6,-10.2 z" fill="#00ff00"/><path d="M953.2,1450.0 h13.2 l-6.6,-10.2 z" fill="#00ff00"/><path d="M961.6,1452.9 h13.2 l-6.6,-10.2 z" fill="#00ff00"/><path d="M969.8,1455.3 h13.2 l-6.6,-10.2 z" fill="#00ff00"/><path d="M977.9,1457.2 h13.2 l-6.6,-10.2 z" fill="#00ff00"/><path d="M985.8,1458.6 h13.2 l-6.6,-10.2 z" fill="#00ff00"/><path d="M993.6,1459.4 h13.2 l-6.6,-10.2 z" fill="#00ff00"/><path d="M1001.2,1459.5 h13.2 l-6.6,-10.2 z" fill="#00ff00"/><path d="M1008.7,1458.9 h13.2 l-6.6,-10.2 z" fill="#00ff00"/><path d="M1016.4,1457.5 h13.2 l-6.6,-10.2 z" fill="#00ff00"/><path d="M1024.0,1455.3 h13.2 l-6.6,-10.2 z" fill="#00ff00"/><path d="M1031.6,1452.4 h13.2 l-6.6,-10.2 z" fill="#00ff00"/><path d="M1039.0,1448.8 h13.2 l-6.6,-10.2 z" fill="#00ff00"/><path d="M1046.3,1444.6 h13.2 l-6.6,-10.2 z" fill="#00ff00"/><path d="M1053.5,1439.9 h13.2 l-6.6,-10.2 z" fill="#00ff00"/><path d="M1060.5,1434.7 h13.2 l-6.6,-10.2 z" fill="#00ff00"/><path d="M1067.4,1429.2 h13.2 l-6.6,-10.2 z" fill="#00ff00"/><path d="M1074.3,1423.3 h13.2 l-6.6,-10.2 z" fill="#00ff00"/><path d="M1081.4,1416.8 h13.2 l-6.6,-10.2 z" fill="#00ff00"/><path d="M1088.7,1409.9 h13.2 l-6.6,-10.2 z" fill="#00ff00"/><path d="M1096.2,1402.4 h13.2 l-6.6,-10.2 z" fill="#00ff00"/><path d="M1104.0,1394.4 h13.2 l-6.6,-10.2 z" fill="#00ff00"/><path d="M1111.9,1385.9 h13.2 l-6.6,-10.2 z" fill="#00ff00"/><path d="M1120.1,1376.7 h13.2 l-6.6,-10.2 z" fill="#00ff00"/><path d="M1128.6,1366.6 h13.2 l-6.6,-10.2 z" fill="#00ff00"/><path d="M1137.8,1355.5 h13.2 l-6.6,-10.2 z" fill="#00ff00"/><path d="M1147.4,1343.1 h13.2 l-6.6,-10.2 z" fill="#00ff00"/><path d="M1157.6,1329.5 h13.2 l-6.6,-10.2 z" fill="#00ff00"/><path d="M1168.3,1314.7 h13.2 l-6.6,-10.2 z" fill="#00ff00"/><path d="M1178.5,1299.9 h13.2 l-6.6,-10.2 z" fill="#00ff00"/><path d="M1191.9,1280.1 h13.2 l-6.6,-10.2 z" fill="#00ff00"/><path d="M1203.9,1261.7 h13.2 l-6.6,-10.2 z" fill="#00ff00"/><path d="M1215.9,1243.3 h13.2 l-6.6,-10.2 z" fill="#00ff00"/><path d="M1229.0,1223.2 h13.2 l-6.6,-10.2 z" fill="#00ff00"/><path d="M1241.0,1204.8 h13.2 l-6.6,-10.2 z" fill="#00ff00"/><path d="M1256.5,1181.4 h13.2 l-6.6,-10.2 z" fill="#00ff00"/><path d="M1272.0,1158.2 h13.2 l-6.6,-10.2 z" fill="#00ff00"/><path d="M1288.8,1133.3 h13.2 l-6.6,-10.2 z" fill="#00ff00"/><path d="M1306.9,1106.9 h13.2 l-6.6,-10.2 z" fill="#00ff00"/><path d="M1326.2,1079.0 h13.2 l-6.6,-10.2 z" fill="#00ff00"/><path d="M1345.7,1051.1 h13.2 l-6.6,-10.2 z" fill="#00ff00"/><path d="M1367.6,1020.1 h13.2 l-6.6,-10.2 z" fill="#00ff00"/><path d="M1387.3,992.3 h13.2 l-6.6,-10.2 z" fill="#00ff00"/><path d="M1411.7,958.2 h13.2 l-6.6,-10.2 z" fill="#00ff00"/><path d="M1435.1,925.7 h13.2 l-6.6,-10.2 z" fill="#00ff00"/><path d="M1461.0,890.1 h13.2 l-6.6,-10.2 z" fill="#00ff00"/><path d="M1488.2,853.0 h13.2 l-6.6,-10.2 z" fill="#00ff00"/><path d="M1518.1,812.9 h13.2 l-6.6,-10.2 z" fill="#00ff00"/><path d="M1549.4,771.4 h13.2 l-6.6,-10.2 z" fill="#00ff00"/><path d="M1579.9,731.8 h13.2 l-6.6,-10.2 z" fill="#00ff00"/><path d="M1614.5,687.8 h13.2 l-6.6,-10.2 z" fill="#00ff00"/><path d="M1649.6,644.2 h13.2 l-6.6,-10.2 z" fill="#00ff00"/><path d="M1686.6,599.6 h13.2 l-6.6,-10.2 z" fill="#00ff00"/><path d="M1728.2,551.0 h13.2 l-6.6,-10.2 z" fill="#00ff00"/><path d="M1772.0,501.6 h13.2 l-6.6,-10.2 z" fill="#00ff00"/><path d="M1816.8,453.1 h13.2 l-6.6,-10.2 z" fill="#00ff00"/><path d="M1865.2,402.6 h13.2 l-6.6,-10.2 z" fill="#00ff00"/><path d="M1914.7,353.0 h13.2 l-6.6,-10.2 z" fill="#00ff00"/><path d="M1966.5,303.0 h13.2 l-6.6,-10.2 z" fill="#00ff00"/><path d="M2022.3,251.3 h13.2 l-6.6,-10.2 z" fill="#00ff00"/><path d="M2079.2,200.8 h13.2 l-6.6,-10.2 z" fill="#00ff00"/><path d="M2140.1,149.0 h13.2 l-6.6,-10.2 z" fill="#00ff00"/><path d="M2205.2,96.0 h13.2 l-6.6,-10.2 z" fill="#00ff00"/></g>
<path d="M373.9,1549.5 374.8,1547.8 375.7,1546.1 376.6,1544.3 377.5,1542.6 378.5,1540.9 379.4,1539.2 380.3,1537.4 381.3,1535.7 382.2,1534.0 383.2,1532.3 384.2,1530.5 385.1,1528.8 386.1,1527.1 387.1,1525.4 388.1,1523.7 389.0,1521.9 390.0,1520.2 391.0,1518.5 392.1,1516.8 393.1,1515.1 394.1,1513.4 395.1,1511.6 396.2,1509.9 397.2,1508.2 398.2,1506.5 399.3,1504.8 400.4,1503.1 401.4,1501.4 402.5,1499.7 403.6,1498.0 404.7,1496.3 405.7,1494.6 406.8,1492.9 407.9,1491.3 409.1,1489.6 410.2,1487.9 411.3,1486.2 412.4,1484.5 413.6,1482.9 414.7,1481.2 415.8,1479.5 417.0,1477.9 418.2,1476.2 419.3,1474.6 420.5,1472.9 421.7,1471.3 422.9,1469.7 424.1,1468.0 425.3,1466.4 426.5,1464.8 427.7,1463.2 428.9,1461.5 430.1,1459.9 431.4,1458.3 432.6,1456.7 433.9,1455.1 435.1,1453.6 436.4,1452.0 437.6,1450.4 438.9,1448.8 440.2,1447.3 441.5,1445.7 442.8,1444.2 444.1,1442.6 445.4,1441.1 446.7,1439.6 448.0,1438.0 449.3,1436.5 450.7,1435.0 452.0,1433.5 453.4,1432.0 454.7,1430.5 456.1,1429.0 457.5,1427.6 458.8,1426.1 460.2,1424.6 461.6,1423.2 463.0,1421.8 464.4,1420.3 465.8,1418.9 467.3,1417.5 468.7,1416.1 470.1,1414.7 471.6,1413.3 473.0,1411.9 474.5,1410.5 475.9,1409.2 477.4,1407.8 478.9,1406.5 480.4,1405.1 481.9,1403.8 483.4,1402.5 484.9,1401.2 486.4,1399.9 487.9,1398.6 489.4,1397.3 491.0,1396.1 492.5,1394.8 494.1,1393.6 495.6,1392.3 497.2,1391.1 498.8,1389.9 500.3,1388.7 501.9,1387.5 503.5,1386.3 505.1,1385.1 506.7,1384.0 508.4,1382.8 510.0,1381.7 511.6,1380.6 513.3,1379.5 514.9,1378.4 516.6,1377.3 518.2,1376.2 519.9,1375.2 521.6,1374.1 523.3,1373.1 525.0,1372.0 526.7,1371.0 528.4,1370.0 530.1,1369.1 531.8,1368.1 533.6,1367.1 535.3,1366.2 537.1,1365.2 538.8,1364.3 540.6,1363.4 542.4,1362.5 544.1,1361.7 545.9,1360.8 547.7,1360.0 549.5,1359.1 551.4,1358.3 553.2,1357.5 555.0,1356.7 556.8,1355.9 558.7,1355.2 560.5,1354.4 562.4,1353.7 564.3,1353.0 566.2,1352.3 568.0,1351.6 569.9,1350.9 571.8,1350.3 573.7,1349.6 575.6,1349.0 577.5,1348.4 579.5,1347.8 581.4,1347.2 583.3,1346.7 585.3,1346.1 587.2,1345.6 589.1,1345.1 591.1,1344.6 593.1,1344.1 595.0,1343.6 597.0,1343.2 599.0,1342.7 600.9,1342.3 602.9,1341.9 604.9,1341.5 606.9,1341.1 608.8,1340.8 610.8,1340.4 612.8,1340.1 614.8,1339.8 616.8,1339.5 618.8,1339.2 620.8,1338.9 622.8,1338.7 624.8,1338.5 626.8,1338.2 628.8,1338.1 630.9,1337.9 632.9,1337.7 634.9,1337.6 636.9,1337.4 638.9,1337.3 640.9,1337.2 642.9,1337.1 644.9,1337.1 646.9,1337.0 649.0,1337.0 651.0,1337.0 653.0,1337.0 655.0,1337.0 657.0,1337.0 659.0,1337.1 661.0,1337.2 663.0,1337.2 665.0,1337.4 667.0,1337.5 669.0,1337.6 671.0,1337.8 673.0,1337.9 675.0,1338.1 677.0,1338.3 679.0,1338.6 680.9,1338.8 682.9,1339.1 684.9,1339.4 686.9,1339.7 688.8,1340.0 690.8,1340.3 692.8,1340.7 694.7,1341.0 696.7,1341.4 698.6,1341.8 700.5,1342.2 702.5,1342.7 704.4,1343.1 706.3,1343.6 708.2,1344.1 710.1,1344.6 712.0,1345.1 713.9,1345.7 715.8,1346.3 717.7,1346.8 719.6,1347.4 721.5,1348.0 723.4,1348.7 725.2,1349.3 727.1,1350.0 729.0,1350.7 730.8,1351.4 732.7,1352.1 734.5,1352.8 736.3,1353.5 738.2,1354.3 740.0,1355.0 741.8,1355.8 743.6,1356.6 745.4,1357.4 747.2,1358.3 749.0,1359.1 750.8,1359.9 752.6,1360.8 754.4,1361.7 756.2,1362.6 757.9,1363.5 759.7,1364.4 761.5,1365.3 763.2,1366.3 765.0,1367.2 766.7,1368.2 768.5,1369.1 770.2,1370.1 772.0,1371.1 773.7,1372.1 775.4,1373.1 777.1,1374.2 778.8,1375.2 780.6,1376.3 782.3,1377.3 784.0,1378.4 785.6,1379.5 787.3,1380.5 789.0,1381.6 790.7,1382.7 792.4,1383.8 794.1,1385.0 795.7,1386.1 797.4,1387.2 799.0,1388.4 800.7,1389.5 802.3,1390.7 804.0,1391.9 805.6,1393.0 807.3,1394.2 808.9,1395.4 810.5,1396.6 812.1,1397.8 813.7,1399.0 815.4,1400.2 817.0,1401.4 818.6,1402.7 820.2,1403.9 821.8,1405.1 823.3,1406.4 824.9,1407.6 826.5,1408.9 828.1,1410.1 829.7,1411.4 831.2,1412.6 832.8,1413.9 834.4,1415.2 835.9,1416.4 837.5,1417.7 839.0,1419.0 840.6,1420.3 842.1,1421.5 843.6,1422.8 845.2,1424.1 846.7,1425.4 848.2,1426.7 849.7,1428.0 851.2,1429.3 852.7,1430.6 854.2,1431.9 855.7,1433.2 857.2,1434.5 858.7,1435.8 860.2,1437.1 861.7,1438.4 863.2,1439.7 864.7,1441.0 866.2,1442.3 867.6,1443.6 869.1,1444.9 870.6,1446.2 872.1,1447.5 873.5,1448.8 875.0,1450.1 876.5,1451.5 877.9,1452.8 879.4,1454.1 880.9,1455.4 882.4,1456.8 883.8,1458.1 885.3,1459.5 886.8,1460.8 888.3,1462.2 889.8,1463.5 891.3,1464.9 892.8,1466.3 894.3,1467.6 895.8,1469.0 897.3,1470.4 898.9,1471.8 900.4,1473.2 901.9,1474.6 903.5,1476.0 905.0,1477.5 906.6,1478.9 908.2,1480.3 909.7,1481.7 911.3,1483.1 912.9,1484.6 914.5,1486.0 916.2,1487.4 917.8,1488.8 919.4,1490.2 921.1,1491.5 922.7,1492.6 924.4,1493.7 926.1,1494.5 927.8,1495.2 929.5,1495.7 931.2,1496.0 933.0,1496.2 934.7,1496.3 936.4,1496.2 938.2,1495.9 939.9,1495.5 941.6,1495.1 943.3,1494.5 945.1,1493.8 946.8,1493.0 948.5,1492.1 950.2,1491.1 951.8,1490.1 953.5,1489.0 955.1,1487.8 956.7,1486.6 958.3,1485.4 959.9,1484.1 961.4,1482.8 962.9,1481.4 964.4,1480.1 965.9,1478.7 967.3,1477.3 968.7,1475.9 970.1,1474.5 971.5,1473.0 972.8,1471.5 974.2,1470.0 975.5,1468.5 976.7,1467.0 978.0,1465.5 979.2,1463.9 980.5,1462.3 981.7,1460.8 982.9,1459.2 984.0,1457.5 985.2,1455.9 986.3,1454.3 987.5,1452.6 988.6,1451.0 989.7,1449.3 990.8,1447.6 991.8,1445.9 992.9,1444.2 994.0,1442.5 995.0,1440.8 996.0,1439.1 997.0,1437.3 998.1,1435.6 999.1,1433.8 1000.1,1432.1 1001.1,1430.3 1002.0,1428.6 1003.0,1426.8 1004.0,1425.0 1005.0,1423.2 1005.9,1421.5 1006.9,1419.7 1007.9,1417.9 1008.8,1416.1 1009.8,1414.3 1010.8,1412.6 1011.7,1410.8 1012.7,1409.0 1013.6,1407.2 1014.6,1405.5 1015.6,1403.7 1016.5,1401.9 1017.5,1400.2 1018.5,1398.4 1019.5,1396.6 1020.4,1394.9 1021.4,1393.1 1022.4,1391.4 1023.4,1389.6 1024.4,1387.9 1025.4,1386.1 1026.4,1384.4 1027.4,1382.6 1028.4,1380.9 1029.3,1379.2 1030.3,1377.4 1031.3,1375.7 1032.4,1374.0 1033.4,1372.2 1034.4,1370.5 1035.4,1368.8 1036.4,1367.0 1037.4,1365.3 1038.4,1363.6 1039.4,1361.9 1040.5,1360.2 1041.5,1358.4 1042.5,1356.7 1043.5,1355.0 1044.6,1353.3 1045.6,1351.6 1046.6,1349.9 1047.7,1348.2 1048.7,1346.5 1049.7,1344.8 1050.8,1343.1 1051.8,1341.4 1052.9,1339.7 1053.9,1338.0 1055.0,1336.3 1056.0,1334.6 1057.1,1332.9 1058.1,1331.2 1059.2,1329.6 1060.2,1327.9 1061.3,1326.2 1062.4,1324.5 1063.4,1322.8 1064.5,1321.1 1065.6,1319.5 1066.7,1317.8 1067.7,1316.1 1068.8,1314.4 1069.9,1312.8 1071.0,1311.1 1072.1,1309.4 1073.1,1307.8 1074.2,1306.1 1075.3,1304.4 1076.4,1302.8 1077.5,1301.1 1078.6,1299.4 1079.7,1297.8 1080.8,1296.1 1081.9,1294.4 1083.0,1292.8 1084.1,1291.1 1085.2,1289.5 1086.3,1287.8 1087.5,1286.2 1088.6,1284.5 1089.7,1282.9 1090.8,1281.2 1091.9,1279.6 1093.1,1277.9 1094.2,1276.3 1095.3,1274.7 1096.5,1273.0 1097.6,1271.4 1098.7,1269.7 1099.9,1268.1 1101.0,1266.5 1102.2,1264.9 1103.3,1263.2 1104.5,1261.6 1105.6,1260.0 1106.8,1258.3 1108.0,1256.7 1109.1,1255.1 1110.3,1253.5 1111.5,1251.9 1112.6,1250.3 1113.8,1248.7 1115.0,1247.0 1116.2,1245.4 1117.4,1243.8 1118.5,1242.2 1119.7,1240.6 1120.9,1239.0 1122.1,1237.4 1123.3,1235.8 1124.5,1234.2 1125.7,1232.7 1126.9,1231.1 1128.2,1229.5 1129.4,1227.9 1130.6,1226.3 1131.8,1224.7 1133.0,1223.2 1134.3,1221.6 1135.5,1220.0 1136.7,1218.4 1138.0,1216.9 1139.2,1215.3 1140.5,1213.8 1141.7,1212.2 1143.0,1210.6 1144.2,1209.1 1145.5,1207.5 1146.7,1206.0 1148.0,1204.4 1149.3,1202.9 1150.5,1201.3 1151.8,1199.8 1153.1,1198.3 1154.4,1196.7 1155.7,1195.2 1157.0,1193.7 1158.3,1192.2 1159.6,1190.6 1160.9,1189.1 1162.2,1187.6 1163.5,1186.1 1164.8,1184.6 1166.1,1183.1 1167.4,1181.6 1168.8,1180.1 1170.1,1178.6 1171.4,1177.1 1172.8,1175.6 1174.1,1174.1 1175.4,1172.6 1176.8,1171.1 1178.1,1169.6 1179.5,1168.1 1180.8,1166.7 1182.2,1165.2 1183.6,1163.7 1184.9,1162.3 1186.3,1160.8 1187.7,1159.3 1189.1,1157.9 1190.5,1156.4 1191.8,1155.0 1193.2,1153.5 1194.6,1152.1 1196.0,1150.7 1197.4,1149.2 1198.8,1147.8 1200.3,1146.4 1201.7,1144.9 1203.1,1143.5 1204.5,1142.1 1205.9,1140.7 1207.4,1139.3 1208.8,1137.9 1210.2,1136.5 1211.7,1135.1 1213.1,1133.7 1214.6,1132.3 1216.0,1130.9 1217.5,1129.5 1218.9,1128.1 1220.4,1126.8 1221.8,1125.4 1223.3,1124.0 1224.8,1122.7 1226.3,1121.3 1227.7,1119.9 1229.2,1118.6 1230.7,1117.2 1232.2,1115.9 1233.7,1114.6 1235.2,1113.2 1236.7,1111.9 1238.2,1110.6 1239.7,1109.2 1241.2,1107.9 1242.7,1106.6 1244.2,1105.3 1245.8,1104.0 1247.3,1102.7 1248.8,1101.4 1250.3,1100.1 1251.9,1098.8 1253.4,1097.5 1255.0,1096.2 1256.5,1095.0 1258.1,1093.7 1259.6,1092.4 1261.2,1091.2 1262.7,1089.9 1264.3,1088.7 1265.9,1087.4 1267.4,1086.2 1269.0,1084.9 1270.6,1083.7 1272.2,1082.5 1273.7,1081.2 1275.3,1080.0 1276.9,1078.8 1278.5,1077.6 1280.1,1076.4 1281.7,1075.2 1283.3,1074.0 1284.9,1072.8 1286.5,1071.6 1288.1,1070.4 1289.8,1069.3 1291.4,1068.1 1293.0,1066.9 1294.6,1065.8 1296.3,1064.6 1297.9,1063.5 1299.5,1062.3 1301.2,1061.2 1302.8,1060.1 1304.5,1058.9 1306.1,1057.8 1307.8,1056.7 1309.4,1055.6 1311.1,1054.5 1312.8,1053.4 1314.4,1052.3 1316.1,1051.2 1317.8,1050.1 1319.4,1049.0 1321.1,1047.9 1322.8,1046.9 1324.5,1045.8 1326.2,1044.7 1327.9,1043.7 1329.6,1042.7 1331.3,1041.6 1333.0,1040.6 1334.7,1039.5 1336.4,1038.5 1338.1,1037.5 1339.8,1036.5 1341.6,1035.5 1343.3,1034.5 1345.0,1033.5 1346.7,1032.5 1348.5,1031.5 1350.2,1030.5 1351.9,1029.6 1353.7,1028.6 1355.4,1027.6 1357.2,1026.7 1358.9,1025.8 1360.7,1024.8 1362.4,1023.9 1364.2,1022.9 1366.0,1022.0 1367.7,1021.1 1369.5,1020.2 1371.3,1019.3 1373.1,1018.4 1374.8,1017.5 1376.6,1016.6 1378.4,1015.7 1380.2,1014.9 1382.0,1014.0 1383.8,1013.2 1385.6,1012.3 1387.4,1011.5 1389.2,1010.6 1391.0,1009.8 1392.8,1009.0 1394.6,1008.1 1396.4,1007.3 1398.3,1006.5 1400.1,1005.7 1401.9,1004.9 1403.7,1004.1 1405.6,1003.4 1407.4,1002.6 1409.2,1001.8 1411.1,1001.1 1412.9,1000.3 1414.8,999.6 1416.6,998.8 1418.5,998.1 1420.3,997.4 1422.2,996.7 1424.1,995.9 1425.9,995.2 1427.8,994.5 1429.7,993.9 1431.5,993.2 1433.4,992.5 1435.3,991.8 1437.2,991.2 1439.1,990.5 1441.0,989.9 1442.9,989.2 1444.7,988.6 1446.6,988.0 1448.5,987.4 1450.5,986.7 1452.4,986.1 1454.3,985.5 1456.2,985.0 1458.1,984.4 1460.0,983.8 1461.9,983.2 1463.9,982.7 1465.8,982.1 1467.7,981.6 1469.7,981.1 1471.6,980.5 1473.5,980.0 1475.5,979.5 1477.4,979.0 1479.4,978.5 1481.3,978.0 1483.3,977.5 1485.2,977.1 1487.2,976.6 1489.1,976.1 1491.1,975.7 1493.1,975.2 1495.0,974.8 1497.0,974.4 1499.0,974.0 1501.0,973.6 1503.0,973.2 1504.9,972.8 1506.9,972.4 1508.4,972.1" stroke="#000000" stroke-width="5.2"/>
<g stroke="none"><path d="M367.3,1545.7 h13.2 l-6.6,10.2 z" fill="#000000"/><path d="M370.7,1539.3 h13.2 l-6.6,10.2 z" fill="#000000"/><path d="M376.0,1529.6 h13.2 l-6.6,10.2 z" fill="#000000"/><path d="M381.4,1520.0 h13.2 l-6.6,10.2 z" fill="#000000"/><path d="M386.9,1510.5 h13.2 l-6.6,10.2 z" fill="#000000"/><path d="M392.7,1501.1 h13.2 l-6.6,10.2 z" fill="#000000"/><path d="M398.6,1491.7 h13.2 l-6.6,10.2 z" fill="#000000"/><path d="M404.6,1482.5 h13.2 l-6.6,10.2 z" fill="#000000"/><path d="M410.9,1473.4 h13.2 l-6.6,10.2 z" fill="#000000"/><path d="M417.4,1464.4 h13.2 l-6.6,10.2 z" fill="#000000"/><path d="M424.0,1455.5 h13.2 l-6.6,10.2 z" fill="#000000"/><path d="M430.9,1446.8 h13.2 l-6.6,10.2 z" fill="#000000"/><path d="M438.0,1438.3 h13.2 l-6.6,10.2 z" fill="#000000"/><path d="M445.3,1429.9 h13.2 l-6.6,10.2 z" fill="#000000"/><path d="M452.8,1421.7 h13.2 l-6.6,10.2 z" fill="#000000"/><path d="M460.6,1413.7 h13.2 l-6.6,10.2 z" fill="#000000"/><path d="M468.6,1406.0 h13.2 l-6.6,10.2 z" fill="#000000"/><path d="M476.9,1398.6 h13.2 l-6.6,10.2 z" fill="#000000"/><path d="M485.5,1391.4 h13.2 l-6.6,10.2 z" fill="#000000"/><path d="M494.3,1384.5 h13.2 l-6.6,10.2 z" fill="#000000"/><path d="M503.4,1377.9 h13.2 l-6.6,10.2 z" fill="#000000"/><path d="M512.7,1371.7 h13.2 l-6.6,10.2 z" fill="#000000"/><path d="M522.3,1365.9 h13.2 l-6.6,10.2 z" fill="#000000"/><path d="M532.2,1360.6 h13.2 l-6.6,10.2 z" fill="#000000"/><path d="M542.3,1355.6 h13.2 l-6.6,10.2 z" fill="#000000"/><path d="M552.6,1351.2 h13.2 l-6.6,10.2 z" fill="#000000"/><path d="M563.2,1347.2 h13.2 l-6.6,10.2 z" fill="#000000"/><path d="M573.9,1343.7 h13.2 l-6.6,10.2 z" fill="#000000"/><path d="M584.8,1340.7 h13.2 l-6.6,10.2 z" fill="#000000"/><path d="M595.9,1338.2 h13.2 l-6.6,10.2 z" fill="#000000"/><path d="M607.1,1336.2 h13.2 l-6.6,10.2 z" fill="#000000"/><path d="M618.3,1334.7 h13.2 l-6.6,10.2 z" fill="#000000"/><path d="M629.7,1333.7 h13.2 l-6.6,10.2 z" fill="#000000"/><path d="M641.0,1333.2 h13.2 l-6.6,10.2 z" fill="#000000"/><path d="M652.5,1333.3 h13.2 l-6.6,10.2 z" fill="#000000"/><path d="M664.0,1333.9 h13.2 l-6.6,10.2 z" fill="#000000"/><path d="M675.6,1335.2 h13.2 l-6.6,10.2 z" fill="#000000"/><path d="M687.2,1337.1 h13.2 l-6.6,10.2 z" fill="#000000"/><path d="M698.7,1339.6 h13.2 l-6.6,10.2 z" fill="#000000"/><path d="M710.2,1342.7 h13.2 l-6.6,10.2 z" fill="#000000"/><path d="M721.5,1346.6 h13.2 l-6.6,10.2 z" fill="#000000"/><path d="M732.7,1351.0 h13.2 l-6.6,10.2 z" fill="#000000"/><path d="M743.8,1355.9 h13.2 l-6.6,10.2 z" fill="#000000"/><path d="M754.7,1361.4 h13.2 l-6.6,10.2 z" fill="#000000"/><path d="M765.5,1367.4 h13.2 l-6.6,10.2 z" fill="#000000"/><path d="M776.1,1373.8 h13.2 l-6.6,10.2 z" fill="#000000"/><path d="M786.5,1380.5 h13.2 l-6.6,10.2 z" fill="#000000"/><path d="M796.7,1387.6 h13.2 l-6.6,10.2 z" fill="#000000"/><path d="M806.5,1394.7 h13.2 l-6.6,10.2 z" fill="#000000"/><path d="M815.9,1401.9 h13.2 l-6.6,10.2 z" fill="#000000"/><path d="M824.9,1409.0 h13.2 l-6.6,10.2 z" fill="#000000"/><path d="M833.6,1416.2 h13.2 l-6.6,10.2 z" fill="#000000"/><path d="M842.0,1423.2 h13.2 l-6.6,10.2 z" fill="#000000"/><path d="M850.1,1430.2 h13.2 l-6.6,10.2 z" fill="#000000"/><path d="M858.0,1437.1 h13.2 l-6.6,10.2 z" fill="#000000"/><path d="M865.7,1443.9 h13.2 l-6.6,10.2 z" fill="#000000"/><path d="M873.1,1450.6 h13.2 l-6.6,10.2 z" fill="#000000"/><path d="M880.3,1457.1 h13.2 l-6.6,10.2 z" fill="#000000"/><path d="M887.2,1463.4 h13.2 l-6.6,10.2 z" fill="#000000"/><path d="M893.9,1469.5 h13.2 l-6.6,10.2 z" fill="#000000"/><path d="M900.4,1475.4 h13.2 l-6.6,10.2 z" fill="#000000"/><path d="M906.7,1481.1 h13.2 l-6.6,10.2 z" fill="#000000"/><path d="M912.9,1486.5 h13.2 l-6.6,10.2 z" fill="#000000"/><path d="M919.6,1490.7 h13.2 l-6.6,10.2 z" fill="#000000"/><path d="M926.9,1492.4 h13.2 l-6.6,10.2 z" fill="#000000"/><path d="M934.4,1491.4 h13.2 l-6.6,10.2 z" fill="#000000"/><path d="M941.5,1488.5 h13.2 l-6.6,10.2 z" fill="#000000"/><path d="M948.1,1484.3 h13.2 l-6.6,10.2 z" fill="#000000"/><path d="M954.3,1479.4 h13.2 l-6.6,10.2 z" fill="#000000"/><path d="M960.2,1474.1 h13.2 l-6.6,10.2 z" fill="#000000"/><path d="M965.8,1468.2 h13.2 l-6.6,10.2 z" fill="#000000"/><path d="M971.1,1462.1 h13.2 l-6.6,10.2 z" fill="#000000"/><path d="M976.1,1455.6 h13.2 l-6.6,10.2 z" fill="#000000"/><path d="M980.9,1448.8 h13.2 l-6.6,10.2 z" fill="#000000"/><path d="M985.5,1441.7 h13.2 l-6.6,10.2 z" fill="#000000"/><path d="M989.9,1434.5 h13.2 l-6.6,10.2 z" fill="#000000"/><path d="M994.1,1427.1 h13.2 l-6.6,10.2 z" fill="#000000"/><path d="M998.5,1419.2 h13.2 l-6.6,10.2 z" fill="#000000"/><path d="M1003.0,1410.9 h13.2 l-6.6,10.2 z" fill="#000000"/><path d="M1007.7,1402.2 h13.2 l-6.6,10.2 z" fill="#000000"/><path d="M1012.8,1393.0 h13.2 l-6.6,10.2 z" fill="#000000"/><path d="M1018.1,1383.4 h13.2 l-6.6,10.2 z" fill="#000000"/><path d="M1023.9,1373.4 h13.2 l-6.6,10.2 z" fill="#000000"/><path d="M1030.1,1362.8 h13.2 l-6.6,10.2 z" fill="#000000"/><path d="M1037.1,1350.9 h13.2 l-6.6,10.2 z" fill="#000000"/><path d="M1045.1,1337.8 h13.2 l-6.6,10.2 z" fill="#000000"/><path d="M1054.1,1323.3 h13.2 l-6.6,10.2 z" fill="#000000"/><path d="M1064.4,1307.3 h13.2 l-6.6,10.2 z" fill="#000000"/><path d="M1074.2,1292.3 h13.2 l-6.6,10.2 z" fill="#000000"/><path d="M1084.2,1277.4 h13.2 l-6.6,10.2 z" fill="#000000"/><path d="M1094.4,1262.7 h13.2 l-6.6,10.2 z" fill="#000000"/><path d="M1106.0,1246.5 h13.2 l-6.6,10.2 z" fill="#000000"/><path d="M1117.9,1230.4 h13.2 l-6.6,10.2 z" fill="#000000"/><path d="M1130.1,1214.6 h13.2 l-6.6,10.2 z" fill="#000000"/><path d="M1143.9,1197.5 h13.2 l-6.6,10.2 z" fill="#000000"/><path d="M1158.2,1180.8 h13.2 l-6.6,10.2 z" fill="#000000"/><path d="M1172.9,1164.3 h13.2 l-6.6,10.2 z" fill="#000000"/><path d="M1188.0,1148.3 h13.2 l-6.6,10.2 z" fill="#000000"/><path d="M1205.1,1131.3 h13.2 l-6.6,10.2 z" fill="#000000"/><path d="M1224.1,1113.4 h13.2 l-6.6,10.2 z" fill="#000000"/><path d="M1242.2,1097.6 h13.2 l-6.6,10.2 z" fill="#000000"/><path d="M1260.8,1082.4 h13.2 l-6.6,10.2 z" fill="#000000"/><path d="M1281.5,1066.6 h13.2 l-6.6,10.2 z" fill="#000000"/><path d="M1302.8,1051.8 h13.2 l-6.6,10.2 z" fill="#000000"/><path d="M1324.7,1037.8 h13.2 l-6.6,10.2 z" fill="#000000"/><path d="M1348.8,1023.8 h13.2 l-6.6,10.2 z" fill="#000000"/><path d="M1371.8,1011.9 h13.2 l-6.6,10.2 z" fill="#000000"/><path d="M1395.3,1001.1 h13.2 l-6.6,10.2 z" fill="#000000"/><path d="M1421.2,990.7 h13.2 l-6.6,10.2 z" fill="#000000"/><path d="M1447.7,981.7 h13.2 l-6.6,10.2 z" fill="#000000"/><path d="M1474.7,974.2 h13.2 l-6.6,10.2 z" fill="#000000"/><path d="M1501.8,968.3 h13.2 l-6.6,10.2 z" fill="#000000"/></g>
</g>
<g stroke="#000" stroke-width="5.0" fill="none">
<path d="M305,55.2 H2261.0"/>
<path d="M305,1652.0 H2258.5"/>
<path d="M336.3,55.2 V1669.5"/>
<path d="M2258.5,52.7 V1682.5"/>
<path d="M437.5,1652.0 V1682.5"/>
<path d="M639.8,1652.0 V1682.5"/>
<path d="M842.1,1652.0 V1682.5"/>
<path d="M1044.5,1652.0 V1682.5"/>
<path d="M1246.8,1652.0 V1682.5"/>
<path d="M1449.2,1652.0 V1682.5"/>
<path d="M1651.5,1652.0 V1682.5"/>
<path d="M1853.8,1652.0 V1682.5"/>
<path d="M2056.2,1652.0 V1682.5"/>
<path d="M538.6,1652.0 V1669.5"/>
<path d="M741.0,1652.0 V1669.5"/>
<path d="M943.3,1652.0 V1669.5"/>
<path d="M1145.6,1652.0 V1669.5"/>
<path d="M1348.0,1652.0 V1669.5"/>
<path d="M1550.3,1652.0 V1669.5"/>
<path d="M1752.7,1652.0 V1669.5"/>
<path d="M1955.0,1652.0 V1669.5"/>
<path d="M2157.3,1652.0 V1669.5"/>
<path d="M305,1332.6 H336.3"/>
<path d="M305,1013.3 H336.3"/>
<path d="M305,693.9 H336.3"/>
<path d="M305,374.6 H336.3"/>
<path d="M319,1492.3 H336.3"/>
<path d="M319,1173.0 H336.3"/>
<path d="M319,853.6 H336.3"/>
<path d="M319,534.2 H336.3"/>
<path d="M319,214.9 H336.3"/>
</g>
<g font-family="'Liberation Sans', Arial, sans-serif" font-size="58.8" fill="#000">
<text transform="translate(437.1,1743.2) scale(0.950,1)" text-anchor="middle">100</text>
<text transform="translate(639.4,1743.2) scale(0.950,1)" text-anchor="middle">200</text>
<text transform="translate(841.7,1743.2) scale(0.950,1)" text-anchor="middle">300</text>
<text transform="translate(1044.1,1743.2) scale(0.950,1)" text-anchor="middle">400</text>
<text transform="translate(1246.4,1743.2) scale(0.950,1)" text-anchor="middle">500</text>
<text transform="translate(1448.8,1743.2) scale(0.950,1)" text-anchor="middle">600</text>
<text transform="translate(1651.1,1743.2) scale(0.950,1)" text-anchor="middle">700</text>
<text transform="translate(1853.4,1743.2) scale(0.950,1)" text-anchor="middle">800</text>
<text transform="translate(2055.8,1743.2) scale(0.950,1)" text-anchor="middle">900</text>
<text transform="translate(2258.1,1743.2) scale(0.950,1)" text-anchor="middle">1000</text>
<text transform="translate(289.3,1667.0) scale(0.950,1)" text-anchor="end">0</text>
<text transform="translate(289.3,1347.6) scale(0.950,1)" text-anchor="end">100</text>
<text transform="translate(289.3,1028.3) scale(0.950,1)" text-anchor="end">200</text>
<text transform="translate(289.3,708.9) scale(0.950,1)" text-anchor="end">300</text>
<text transform="translate(289.3,389.6) scale(0.950,1)" text-anchor="end">400</text>
<text transform="translate(289.3,70.2) scale(0.950,1)" text-anchor="end">500</text>
</g>
<g font-family="'Liberation Serif', 'Times New Roman', serif" font-size="69.0" fill="#000">
<text x="643.7" y="188.0">PVSC</text>
<text x="643.7" y="271.5">PVSC-hTAc75</text>
<text x="643.7" y="355.7">PVSC-hTAc85</text>
<text x="643.7" y="440.8">PVSC-hTAc100</text>
<text x="1237.2" y="1822.4">Z' (<tspan font-size="61.4" dx="-3.0" textLength="51.0" lengthAdjust="spacingAndGlyphs">Ω</tspan><tspan dx="-3.0">)</tspan></text>
<g transform="translate(67.3,992.2) rotate(-90)">
<text x="0" y="0">Z'' (<tspan font-size="61.4" dx="-2.2" textLength="51.0" lengthAdjust="spacingAndGlyphs">Ω</tspan><tspan dx="-0.8">)</tspan></text>
</g>
</g>
<path d="M473,164.6 H630.5" stroke="#000000" stroke-width="5.6" fill="none"/>
<path d="M544.6,160.8 h13.2 l-6.6,10.2 z" fill="#000000"/>
<path d="M473,250.1 H630.5" stroke="#00ff00" stroke-width="5.6" fill="none"/>
<path d="M544.6,254.4 h13.2 l-6.6,-10.2 z" fill="#00ff00"/>
<path d="M473,333.6 H630.5" stroke="#ff0000" stroke-width="5.6" fill="none"/>
<rect x="545.7" y="328.8" width="11.0" height="9.6" fill="#ff0000"/>
<path d="M473,418.0 H630.5" stroke="#0000ff" stroke-width="5.6" fill="none"/>
<ellipse cx="551.2" cy="418.0" rx="6.0" ry="4.9" fill="#0000ff"/>
</svg>
</body>
</html>
